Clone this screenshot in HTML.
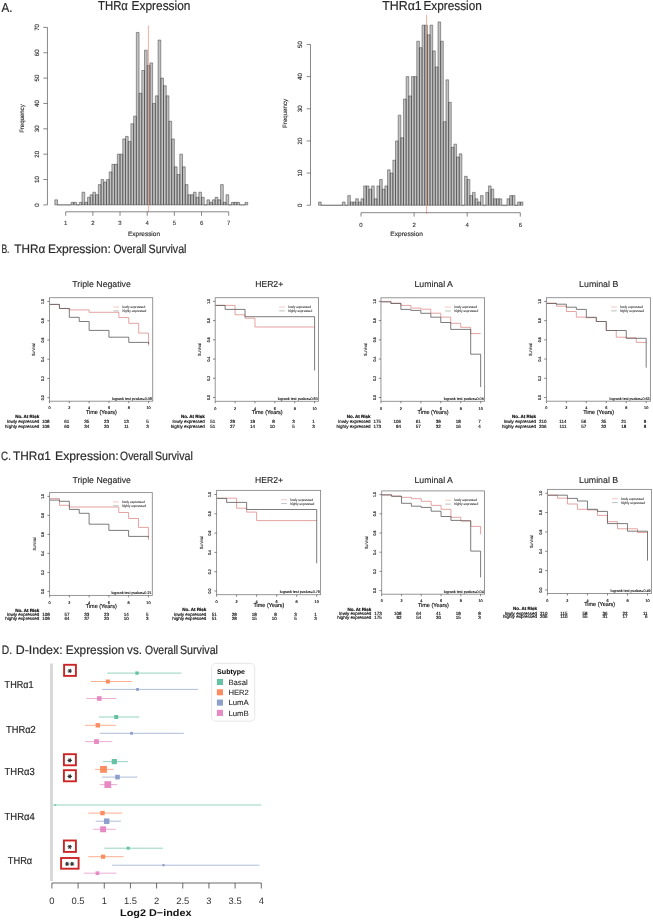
<!DOCTYPE html>
<html><head><meta charset="utf-8"><title>THRa figure</title>
<style>
html,body{margin:0;padding:0;background:#fff;}
body{width:653px;height:920px;overflow:hidden;}
svg{display:block;font-family:"Liberation Sans",sans-serif;text-rendering:geometricPrecision;will-change:transform;}
</style></head>
<body>
<svg width="653" height="920" viewBox="0 0 653 920">
<rect width="653" height="920" fill="#fff"/>
<text x="1.5" y="12" font-size="13" stroke="#2a2a2a" stroke-width="0.2" fill="#2a2a2a" textLength="11" lengthAdjust="spacingAndGlyphs">A.</text>
<text x="98" y="10.4" font-size="13" stroke="#2a2a2a" stroke-width="0.2" fill="#2a2a2a" textLength="29.9" lengthAdjust="spacingAndGlyphs">THRα</text>
<text x="131.6" y="10.4" font-size="13" stroke="#2a2a2a" stroke-width="0.2" fill="#2a2a2a" textLength="58.8" lengthAdjust="spacingAndGlyphs">Expression</text>
<text x="382.2" y="10.3" font-size="13" stroke="#2a2a2a" stroke-width="0.2" fill="#2a2a2a" textLength="39.5" lengthAdjust="spacingAndGlyphs">THRα1</text>
<text x="423.4" y="10.3" font-size="13" stroke="#2a2a2a" stroke-width="0.2" fill="#2a2a2a" textLength="58.4" lengthAdjust="spacingAndGlyphs">Expression</text>
<path d="M54.83 204.9V199.83H57.55V204.9ZM71.13 204.9V202.36H73.85V204.9ZM73.85 204.9V202.36H76.57V204.9ZM79.28 204.9V202.36H82V204.9ZM82 204.9V192.22H84.72V204.9ZM84.72 204.9V202.36H87.44V204.9ZM87.44 204.9V197.29H90.15V204.9ZM90.15 204.9V194.76H92.87V204.9ZM92.87 204.9V192.22H95.59V204.9ZM95.59 204.9V194.76H98.3V204.9ZM98.3 204.9V184.61H101.02V204.9ZM101.02 204.9V179.54H103.74V204.9ZM103.74 204.9V182.08H106.46V204.9ZM106.46 204.9V179.54H109.17V204.9ZM109.17 204.9V171.93H111.89V204.9ZM111.89 204.9V164.32H114.61V204.9ZM114.61 204.9V164.32H117.32V204.9ZM117.32 204.9V154.18H120.04V204.9ZM120.04 204.9V154.18H122.76V204.9ZM122.76 204.9V138.96H125.47V204.9ZM125.47 204.9V136.43H128.19V204.9ZM128.19 204.9V141.5H130.91V204.9ZM130.91 204.9V123.75H133.62V204.9ZM133.62 204.9V116.14H136.34V204.9ZM136.34 204.9V32.45H139.06V204.9ZM139.06 204.9V93.32H141.78V204.9ZM141.78 204.9V70.49H144.49V204.9ZM144.49 204.9V50.2H147.21V204.9ZM147.21 204.9V65.42H149.93V204.9ZM149.93 204.9V62.88H152.64V204.9ZM152.64 204.9V103.46H155.36V204.9ZM155.36 204.9V95.85H158.08V204.9ZM158.08 204.9V40.06H160.8V204.9ZM160.8 204.9V78.1H163.51V204.9ZM163.51 204.9V85.71H166.23V204.9ZM166.23 204.9V95.85H168.95V204.9ZM168.95 204.9V121.21H171.66V204.9ZM171.66 204.9V138.96H174.38V204.9ZM174.38 204.9V166.86H177.1V204.9ZM177.1 204.9V174.47H179.81V204.9ZM179.81 204.9V154.18H182.53V204.9ZM182.53 204.9V166.86H185.25V204.9ZM185.25 204.9V184.61H187.97V204.9ZM187.97 204.9V194.76H190.68V204.9ZM190.68 204.9V194.76H193.4V204.9ZM193.4 204.9V192.22H196.12V204.9ZM196.12 204.9V197.29H198.83V204.9ZM198.83 204.9V192.22H201.55V204.9ZM201.55 204.9V197.29H204.27V204.9ZM206.98 204.9V199.83H209.7V204.9ZM209.7 204.9V202.36H212.42V204.9ZM212.42 204.9V199.83H215.14V204.9ZM215.14 204.9V197.29H217.85V204.9ZM217.85 204.9V199.83H220.57V204.9ZM220.57 204.9V184.61H223.29V204.9ZM223.29 204.9V202.36H226V204.9ZM226 204.9V194.76H228.72V204.9ZM231.44 204.9V202.36H234.15V204.9ZM234.15 204.9V202.36H236.87V204.9ZM236.87 204.9V202.36H239.59V204.9ZM245.02 204.9V202.36H247.74V204.9Z" stroke="none" stroke-width="0" fill="#c2c2c2"/>
<path d="M54.83 204.9V199.83H57.55V204.9M57.55 204.9V204.9H60.27V204.9M60.27 204.9V204.9H62.98V204.9M62.98 204.9V204.9H65.7V204.9M65.7 204.9V204.9H68.42V204.9M68.42 204.9V204.9H71.13V204.9M71.13 204.9V202.36H73.85V204.9M73.85 204.9V202.36H76.57V204.9M76.57 204.9V204.9H79.28V204.9M79.28 204.9V202.36H82V204.9M82 204.9V192.22H84.72V204.9M84.72 204.9V202.36H87.44V204.9M87.44 204.9V197.29H90.15V204.9M90.15 204.9V194.76H92.87V204.9M92.87 204.9V192.22H95.59V204.9M95.59 204.9V194.76H98.3V204.9M98.3 204.9V184.61H101.02V204.9M101.02 204.9V179.54H103.74V204.9M103.74 204.9V182.08H106.46V204.9M106.46 204.9V179.54H109.17V204.9M109.17 204.9V171.93H111.89V204.9M111.89 204.9V164.32H114.61V204.9M114.61 204.9V164.32H117.32V204.9M117.32 204.9V154.18H120.04V204.9M120.04 204.9V154.18H122.76V204.9M122.76 204.9V138.96H125.47V204.9M125.47 204.9V136.43H128.19V204.9M128.19 204.9V141.5H130.91V204.9M130.91 204.9V123.75H133.62V204.9M133.62 204.9V116.14H136.34V204.9M136.34 204.9V32.45H139.06V204.9M139.06 204.9V93.32H141.78V204.9M141.78 204.9V70.49H144.49V204.9M144.49 204.9V50.2H147.21V204.9M147.21 204.9V65.42H149.93V204.9M149.93 204.9V62.88H152.64V204.9M152.64 204.9V103.46H155.36V204.9M155.36 204.9V95.85H158.08V204.9M158.08 204.9V40.06H160.8V204.9M160.8 204.9V78.1H163.51V204.9M163.51 204.9V85.71H166.23V204.9M166.23 204.9V95.85H168.95V204.9M168.95 204.9V121.21H171.66V204.9M171.66 204.9V138.96H174.38V204.9M174.38 204.9V166.86H177.1V204.9M177.1 204.9V174.47H179.81V204.9M179.81 204.9V154.18H182.53V204.9M182.53 204.9V166.86H185.25V204.9M185.25 204.9V184.61H187.97V204.9M187.97 204.9V194.76H190.68V204.9M190.68 204.9V194.76H193.4V204.9M193.4 204.9V192.22H196.12V204.9M196.12 204.9V197.29H198.83V204.9M198.83 204.9V192.22H201.55V204.9M201.55 204.9V197.29H204.27V204.9M204.27 204.9V204.9H206.98V204.9M206.98 204.9V199.83H209.7V204.9M209.7 204.9V202.36H212.42V204.9M212.42 204.9V199.83H215.14V204.9M215.14 204.9V197.29H217.85V204.9M217.85 204.9V199.83H220.57V204.9M220.57 204.9V184.61H223.29V204.9M223.29 204.9V202.36H226V204.9M226 204.9V194.76H228.72V204.9M228.72 204.9V204.9H231.44V204.9M231.44 204.9V202.36H234.15V204.9M234.15 204.9V202.36H236.87V204.9M236.87 204.9V202.36H239.59V204.9M239.59 204.9V204.9H242.31V204.9M242.31 204.9V204.9H245.02V204.9M245.02 204.9V202.36H247.74V204.9M54.83 204.9H247.74" stroke="#2e2e2e" stroke-width="0.45" fill="none"/>
<line x1="148.4" y1="25.5" x2="148.4" y2="212" stroke="#e9826f" stroke-width="0.65"/>
<line x1="47.45" y1="27.38" x2="47.45" y2="204.9" stroke="#555" stroke-width="0.7"/>
<line x1="43.3" y1="204.9" x2="47.45" y2="204.9" stroke="#555" stroke-width="0.7"/>
<text x="38.9" y="204.9" font-size="6.2" stroke="#2a2a2a" stroke-width="0.12" text-anchor="middle" fill="#2a2a2a" transform="rotate(-90 38.9 204.9)">0</text>
<line x1="43.3" y1="179.54" x2="47.45" y2="179.54" stroke="#555" stroke-width="0.7"/>
<text x="38.9" y="179.54" font-size="6.2" stroke="#2a2a2a" stroke-width="0.12" text-anchor="middle" fill="#2a2a2a" transform="rotate(-90 38.9 179.54)">10</text>
<line x1="43.3" y1="154.18" x2="47.45" y2="154.18" stroke="#555" stroke-width="0.7"/>
<text x="38.9" y="154.18" font-size="6.2" stroke="#2a2a2a" stroke-width="0.12" text-anchor="middle" fill="#2a2a2a" transform="rotate(-90 38.9 154.18)">20</text>
<line x1="43.3" y1="128.82" x2="47.45" y2="128.82" stroke="#555" stroke-width="0.7"/>
<text x="38.9" y="128.82" font-size="6.2" stroke="#2a2a2a" stroke-width="0.12" text-anchor="middle" fill="#2a2a2a" transform="rotate(-90 38.9 128.82)">30</text>
<line x1="43.3" y1="103.46" x2="47.45" y2="103.46" stroke="#555" stroke-width="0.7"/>
<text x="38.9" y="103.46" font-size="6.2" stroke="#2a2a2a" stroke-width="0.12" text-anchor="middle" fill="#2a2a2a" transform="rotate(-90 38.9 103.46)">40</text>
<line x1="43.3" y1="78.1" x2="47.45" y2="78.1" stroke="#555" stroke-width="0.7"/>
<text x="38.9" y="78.1" font-size="6.2" stroke="#2a2a2a" stroke-width="0.12" text-anchor="middle" fill="#2a2a2a" transform="rotate(-90 38.9 78.1)">50</text>
<line x1="43.3" y1="52.74" x2="47.45" y2="52.74" stroke="#555" stroke-width="0.7"/>
<text x="38.9" y="52.74" font-size="6.2" stroke="#2a2a2a" stroke-width="0.12" text-anchor="middle" fill="#2a2a2a" transform="rotate(-90 38.9 52.74)">60</text>
<line x1="43.3" y1="27.38" x2="47.45" y2="27.38" stroke="#555" stroke-width="0.7"/>
<text x="38.9" y="27.38" font-size="6.2" stroke="#2a2a2a" stroke-width="0.12" text-anchor="middle" fill="#2a2a2a" transform="rotate(-90 38.9 27.38)">70</text>
<text x="24.3" y="118.6" font-size="6.2" stroke="#2a2a2a" stroke-width="0.14" text-anchor="middle" fill="#2a2a2a" textLength="28.5" lengthAdjust="spacingAndGlyphs" transform="rotate(-90 24.3 118.6)">Frequency</text>
<line x1="65.7" y1="211.8" x2="228.72" y2="211.8" stroke="#555" stroke-width="0.7"/>
<line x1="65.7" y1="211.8" x2="65.7" y2="215.8" stroke="#555" stroke-width="0.7"/>
<text x="65.7" y="225.1" font-size="6" stroke="#333" stroke-width="0.1" text-anchor="middle" fill="#333">1</text>
<line x1="92.87" y1="211.8" x2="92.87" y2="215.8" stroke="#555" stroke-width="0.7"/>
<text x="92.87" y="225.1" font-size="6" stroke="#333" stroke-width="0.1" text-anchor="middle" fill="#333">2</text>
<line x1="120.04" y1="211.8" x2="120.04" y2="215.8" stroke="#555" stroke-width="0.7"/>
<text x="120.04" y="225.1" font-size="6" stroke="#333" stroke-width="0.1" text-anchor="middle" fill="#333">3</text>
<line x1="147.21" y1="211.8" x2="147.21" y2="215.8" stroke="#555" stroke-width="0.7"/>
<text x="147.21" y="225.1" font-size="6" stroke="#333" stroke-width="0.1" text-anchor="middle" fill="#333">4</text>
<line x1="174.38" y1="211.8" x2="174.38" y2="215.8" stroke="#555" stroke-width="0.7"/>
<text x="174.38" y="225.1" font-size="6" stroke="#333" stroke-width="0.1" text-anchor="middle" fill="#333">5</text>
<line x1="201.55" y1="211.8" x2="201.55" y2="215.8" stroke="#555" stroke-width="0.7"/>
<text x="201.55" y="225.1" font-size="6" stroke="#333" stroke-width="0.1" text-anchor="middle" fill="#333">6</text>
<line x1="228.72" y1="211.8" x2="228.72" y2="215.8" stroke="#555" stroke-width="0.7"/>
<text x="228.72" y="225.1" font-size="6" stroke="#333" stroke-width="0.1" text-anchor="middle" fill="#333">7</text>
<text x="144" y="236" font-size="6.3" stroke="#2a2a2a" stroke-width="0.14" text-anchor="middle" fill="#2a2a2a" textLength="32" lengthAdjust="spacingAndGlyphs">Expression</text>
<path d="M318.52 205.25V202.03H321.18V205.25ZM342.42 205.25V202.03H345.07V205.25ZM347.73 205.25V195.6H350.38V205.25ZM350.38 205.25V202.03H353.04V205.25ZM353.04 205.25V202.03H355.69V205.25ZM355.69 205.25V198.82H358.34V205.25ZM358.34 205.25V202.03H361V205.25ZM361 205.25V198.82H363.66V205.25ZM363.66 205.25V185.95H366.31V205.25ZM366.31 205.25V185.95H368.96V205.25ZM368.96 205.25V189.17H371.62V205.25ZM371.62 205.25V185.95H374.27V205.25ZM374.27 205.25V198.82H376.93V205.25ZM376.93 205.25V185.95H379.58V205.25ZM379.58 205.25V179.52H382.24V205.25ZM382.24 205.25V189.17H384.89V205.25ZM384.89 205.25V185.95H387.55V205.25ZM387.55 205.25V169.87H390.2V205.25ZM390.2 205.25V173.09H392.86V205.25ZM392.86 205.25V160.23H395.51V205.25ZM395.51 205.25V140.93H398.17V205.25ZM398.17 205.25V115.2H400.82V205.25ZM400.82 205.25V137.71H403.48V205.25ZM403.48 205.25V99.12H406.13V205.25ZM406.13 205.25V76.61H408.79V205.25ZM408.79 205.25V95.91H411.44V205.25ZM411.44 205.25V76.61H414.1V205.25ZM414.1 205.25V76.61H416.75V205.25ZM416.75 205.25V41.23H419.41V205.25ZM419.41 205.25V47.67H422.06V205.25ZM422.06 205.25V25.15H424.72V205.25ZM424.72 205.25V25.15H427.38V205.25ZM427.38 205.25V34.8H430.03V205.25ZM430.03 205.25V25.15H432.69V205.25ZM432.69 205.25V50.88H435.34V205.25ZM435.34 205.25V66.96H438V205.25ZM438 205.25V21.94H440.65V205.25ZM440.65 205.25V41.23H443.31V205.25ZM443.31 205.25V121.63H445.96V205.25ZM445.96 205.25V79.83H448.62V205.25ZM448.62 205.25V102.34H451.27V205.25ZM451.27 205.25V147.36H453.93V205.25ZM453.93 205.25V144.15H456.58V205.25ZM456.58 205.25V157.01H459.24V205.25ZM459.24 205.25V153.79H461.89V205.25ZM464.55 205.25V176.31H467.2V205.25ZM467.2 205.25V179.52H469.86V205.25ZM469.86 205.25V195.6H472.51V205.25ZM472.51 205.25V192.39H475.17V205.25ZM475.17 205.25V198.82H477.82V205.25ZM477.82 205.25V202.03H480.48V205.25ZM480.48 205.25V195.6H483.13V205.25ZM485.79 205.25V192.39H488.44V205.25ZM488.44 205.25V185.95H491.1V205.25ZM491.1 205.25V189.17H493.75V205.25ZM493.75 205.25V198.82H496.4V205.25ZM496.4 205.25V198.82H499.06V205.25ZM499.06 205.25V198.82H501.72V205.25ZM507.02 205.25V198.82H509.68V205.25ZM509.68 205.25V195.6H512.34V205.25ZM512.34 205.25V195.6H514.99V205.25ZM517.64 205.25V202.03H520.3V205.25ZM520.3 205.25V202.03H522.95V205.25Z" stroke="none" stroke-width="0" fill="#c2c2c2"/>
<path d="M318.52 205.25V202.03H321.18V205.25M321.18 205.25V205.25H323.83V205.25M323.83 205.25V205.25H326.49V205.25M326.49 205.25V205.25H329.14V205.25M329.14 205.25V205.25H331.8V205.25M331.8 205.25V205.25H334.45V205.25M334.45 205.25V205.25H337.11V205.25M337.11 205.25V205.25H339.76V205.25M339.76 205.25V205.25H342.42V205.25M342.42 205.25V202.03H345.07V205.25M345.07 205.25V205.25H347.73V205.25M347.73 205.25V195.6H350.38V205.25M350.38 205.25V202.03H353.04V205.25M353.04 205.25V202.03H355.69V205.25M355.69 205.25V198.82H358.34V205.25M358.34 205.25V202.03H361V205.25M361 205.25V198.82H363.66V205.25M363.66 205.25V185.95H366.31V205.25M366.31 205.25V185.95H368.96V205.25M368.96 205.25V189.17H371.62V205.25M371.62 205.25V185.95H374.27V205.25M374.27 205.25V198.82H376.93V205.25M376.93 205.25V185.95H379.58V205.25M379.58 205.25V179.52H382.24V205.25M382.24 205.25V189.17H384.89V205.25M384.89 205.25V185.95H387.55V205.25M387.55 205.25V169.87H390.2V205.25M390.2 205.25V173.09H392.86V205.25M392.86 205.25V160.23H395.51V205.25M395.51 205.25V140.93H398.17V205.25M398.17 205.25V115.2H400.82V205.25M400.82 205.25V137.71H403.48V205.25M403.48 205.25V99.12H406.13V205.25M406.13 205.25V76.61H408.79V205.25M408.79 205.25V95.91H411.44V205.25M411.44 205.25V76.61H414.1V205.25M414.1 205.25V76.61H416.75V205.25M416.75 205.25V41.23H419.41V205.25M419.41 205.25V47.67H422.06V205.25M422.06 205.25V25.15H424.72V205.25M424.72 205.25V25.15H427.38V205.25M427.38 205.25V34.8H430.03V205.25M430.03 205.25V25.15H432.69V205.25M432.69 205.25V50.88H435.34V205.25M435.34 205.25V66.96H438V205.25M438 205.25V21.94H440.65V205.25M440.65 205.25V41.23H443.31V205.25M443.31 205.25V121.63H445.96V205.25M445.96 205.25V79.83H448.62V205.25M448.62 205.25V102.34H451.27V205.25M451.27 205.25V147.36H453.93V205.25M453.93 205.25V144.15H456.58V205.25M456.58 205.25V157.01H459.24V205.25M459.24 205.25V153.79H461.89V205.25M461.89 205.25V205.25H464.55V205.25M464.55 205.25V176.31H467.2V205.25M467.2 205.25V179.52H469.86V205.25M469.86 205.25V195.6H472.51V205.25M472.51 205.25V192.39H475.17V205.25M475.17 205.25V198.82H477.82V205.25M477.82 205.25V202.03H480.48V205.25M480.48 205.25V195.6H483.13V205.25M483.13 205.25V205.25H485.79V205.25M485.79 205.25V192.39H488.44V205.25M488.44 205.25V185.95H491.1V205.25M491.1 205.25V189.17H493.75V205.25M493.75 205.25V198.82H496.4V205.25M496.4 205.25V198.82H499.06V205.25M499.06 205.25V198.82H501.72V205.25M501.72 205.25V205.25H504.37V205.25M504.37 205.25V205.25H507.02V205.25M507.02 205.25V198.82H509.68V205.25M509.68 205.25V195.6H512.34V205.25M512.34 205.25V195.6H514.99V205.25M514.99 205.25V205.25H517.64V205.25M517.64 205.25V202.03H520.3V205.25M520.3 205.25V202.03H522.95V205.25M318.52 205.25H522.95" stroke="#2e2e2e" stroke-width="0.45" fill="none"/>
<line x1="426.6" y1="14.7" x2="426.6" y2="213.8" stroke="#e9826f" stroke-width="0.65"/>
<line x1="310.5" y1="44.45" x2="310.5" y2="205.25" stroke="#555" stroke-width="0.7"/>
<line x1="306.7" y1="205.25" x2="310.5" y2="205.25" stroke="#555" stroke-width="0.7"/>
<text x="301.7" y="205.25" font-size="6.2" stroke="#2a2a2a" stroke-width="0.12" text-anchor="middle" fill="#2a2a2a" transform="rotate(-90 301.7 205.25)">0</text>
<line x1="306.7" y1="173.09" x2="310.5" y2="173.09" stroke="#555" stroke-width="0.7"/>
<text x="301.7" y="173.09" font-size="6.2" stroke="#2a2a2a" stroke-width="0.12" text-anchor="middle" fill="#2a2a2a" transform="rotate(-90 301.7 173.09)">10</text>
<line x1="306.7" y1="140.93" x2="310.5" y2="140.93" stroke="#555" stroke-width="0.7"/>
<text x="301.7" y="140.93" font-size="6.2" stroke="#2a2a2a" stroke-width="0.12" text-anchor="middle" fill="#2a2a2a" transform="rotate(-90 301.7 140.93)">20</text>
<line x1="306.7" y1="108.77" x2="310.5" y2="108.77" stroke="#555" stroke-width="0.7"/>
<text x="301.7" y="108.77" font-size="6.2" stroke="#2a2a2a" stroke-width="0.12" text-anchor="middle" fill="#2a2a2a" transform="rotate(-90 301.7 108.77)">30</text>
<line x1="306.7" y1="76.61" x2="310.5" y2="76.61" stroke="#555" stroke-width="0.7"/>
<text x="301.7" y="76.61" font-size="6.2" stroke="#2a2a2a" stroke-width="0.12" text-anchor="middle" fill="#2a2a2a" transform="rotate(-90 301.7 76.61)">40</text>
<line x1="306.7" y1="44.45" x2="310.5" y2="44.45" stroke="#555" stroke-width="0.7"/>
<text x="301.7" y="44.45" font-size="6.2" stroke="#2a2a2a" stroke-width="0.12" text-anchor="middle" fill="#2a2a2a" transform="rotate(-90 301.7 44.45)">50</text>
<text x="287.4" y="113.4" font-size="6.2" stroke="#2a2a2a" stroke-width="0.14" text-anchor="middle" fill="#2a2a2a" textLength="29" lengthAdjust="spacingAndGlyphs" transform="rotate(-90 287.4 113.4)">Frequency</text>
<line x1="361" y1="212.7" x2="520.3" y2="212.7" stroke="#555" stroke-width="0.7"/>
<line x1="361" y1="212.7" x2="361" y2="216.6" stroke="#555" stroke-width="0.7"/>
<text x="361" y="226.6" font-size="6" stroke="#333" stroke-width="0.1" text-anchor="middle" fill="#333">0</text>
<line x1="414.1" y1="212.7" x2="414.1" y2="216.6" stroke="#555" stroke-width="0.7"/>
<text x="414.1" y="226.6" font-size="6" stroke="#333" stroke-width="0.1" text-anchor="middle" fill="#333">2</text>
<line x1="467.2" y1="212.7" x2="467.2" y2="216.6" stroke="#555" stroke-width="0.7"/>
<text x="467.2" y="226.6" font-size="6" stroke="#333" stroke-width="0.1" text-anchor="middle" fill="#333">4</text>
<line x1="520.3" y1="212.7" x2="520.3" y2="216.6" stroke="#555" stroke-width="0.7"/>
<text x="520.3" y="226.6" font-size="6" stroke="#333" stroke-width="0.1" text-anchor="middle" fill="#333">6</text>
<text x="406.6" y="236.1" font-size="6.3" stroke="#2a2a2a" stroke-width="0.14" text-anchor="middle" fill="#2a2a2a" textLength="32.6" lengthAdjust="spacingAndGlyphs">Expression</text>
<text x="1.4" y="252.7" font-size="12.2" stroke="#2a2a2a" stroke-width="0.2" fill="#2a2a2a" textLength="8.1" lengthAdjust="spacingAndGlyphs">B.</text>
<text x="14.3" y="252.7" font-size="12.2" stroke="#2a2a2a" stroke-width="0.2" fill="#2a2a2a" textLength="30.9" lengthAdjust="spacingAndGlyphs">THRα</text>
<text x="47.9" y="252.7" font-size="12.2" stroke="#2a2a2a" stroke-width="0.2" fill="#2a2a2a" textLength="62.9" lengthAdjust="spacingAndGlyphs">Expression:</text>
<text x="113.4" y="252.7" font-size="12.2" stroke="#2a2a2a" stroke-width="0.2" fill="#2a2a2a" textLength="33" lengthAdjust="spacingAndGlyphs">Overall</text>
<text x="148.6" y="252.7" font-size="12.2" stroke="#2a2a2a" stroke-width="0.2" fill="#2a2a2a" textLength="37.9" lengthAdjust="spacingAndGlyphs">Survival</text>
<text x="1.1" y="459.9" font-size="12.2" stroke="#2a2a2a" stroke-width="0.2" fill="#2a2a2a" textLength="9.8" lengthAdjust="spacingAndGlyphs">C.</text>
<text x="13.1" y="459.9" font-size="12.2" stroke="#2a2a2a" stroke-width="0.2" fill="#2a2a2a" textLength="37.7" lengthAdjust="spacingAndGlyphs">THRα1</text>
<text x="55.1" y="459.9" font-size="12.2" stroke="#2a2a2a" stroke-width="0.2" fill="#2a2a2a" textLength="63.6" lengthAdjust="spacingAndGlyphs">Expression:</text>
<text x="120.1" y="459.9" font-size="12.2" stroke="#2a2a2a" stroke-width="0.2" fill="#2a2a2a" textLength="32.9" lengthAdjust="spacingAndGlyphs">Overall</text>
<text x="155" y="459.9" font-size="12.2" stroke="#2a2a2a" stroke-width="0.2" fill="#2a2a2a" textLength="37.8" lengthAdjust="spacingAndGlyphs">Survival</text>
<text x="101.6" y="286.5" font-size="8.7" stroke="#262626" stroke-width="0.12" text-anchor="middle" fill="#262626" textLength="58.5" lengthAdjust="spacingAndGlyphs">Triple Negative</text>
<path d="M49.5 304.4H59.41V308.5H69.32V309.9H89.14V312.3H118.87V317.6H128.78V323.3H138.69V333.1H148.6V345.7" stroke="#dc8a86" stroke-width="0.78" fill="none"/>
<path d="M49.5 304.4H59.41V308.5H69.32V317.3H79.23V321.5H89.14V330.4H108.96V337.2H128.78V342.4H148.6V344" stroke="#565656" stroke-width="0.78" fill="none"/>
<rect x="49.5" y="297.7" width="103.2" height="103.5" fill="none" stroke="#8a8a8a" stroke-width="0.9"/>
<line x1="47.3" y1="397.7" x2="49.5" y2="397.7" stroke="#555" stroke-width="0.7"/>
<text x="44.2" y="397.7" font-size="4" stroke="#222" stroke-width="0.15" text-anchor="middle" textLength="4.9" lengthAdjust="spacingAndGlyphs" transform="rotate(-90 44.2 397.7)">0.0</text>
<line x1="47.3" y1="378.46" x2="49.5" y2="378.46" stroke="#555" stroke-width="0.7"/>
<text x="44.2" y="378.46" font-size="4" stroke="#222" stroke-width="0.15" text-anchor="middle" textLength="4.9" lengthAdjust="spacingAndGlyphs" transform="rotate(-90 44.2 378.46)">0.2</text>
<line x1="47.3" y1="359.22" x2="49.5" y2="359.22" stroke="#555" stroke-width="0.7"/>
<text x="44.2" y="359.22" font-size="4" stroke="#222" stroke-width="0.15" text-anchor="middle" textLength="4.9" lengthAdjust="spacingAndGlyphs" transform="rotate(-90 44.2 359.22)">0.4</text>
<line x1="47.3" y1="339.98" x2="49.5" y2="339.98" stroke="#555" stroke-width="0.7"/>
<text x="44.2" y="339.98" font-size="4" stroke="#222" stroke-width="0.15" text-anchor="middle" textLength="4.9" lengthAdjust="spacingAndGlyphs" transform="rotate(-90 44.2 339.98)">0.6</text>
<line x1="47.3" y1="320.74" x2="49.5" y2="320.74" stroke="#555" stroke-width="0.7"/>
<text x="44.2" y="320.74" font-size="4" stroke="#222" stroke-width="0.15" text-anchor="middle" textLength="4.9" lengthAdjust="spacingAndGlyphs" transform="rotate(-90 44.2 320.74)">0.8</text>
<line x1="47.3" y1="301.5" x2="49.5" y2="301.5" stroke="#555" stroke-width="0.7"/>
<text x="44.2" y="301.5" font-size="4" stroke="#222" stroke-width="0.15" text-anchor="middle" textLength="4.9" lengthAdjust="spacingAndGlyphs" transform="rotate(-90 44.2 301.5)">1.0</text>
<text x="35.5" y="349.6" font-size="4.4" stroke="#222" stroke-width="0.12" text-anchor="middle" textLength="13" lengthAdjust="spacingAndGlyphs" transform="rotate(-90 35.5 349.6)">Survival</text>
<line x1="49.5" y1="401.2" x2="49.5" y2="403.2" stroke="#555" stroke-width="0.7"/>
<text x="49.5" y="409.4" font-size="3.8" stroke="#222" stroke-width="0.15" text-anchor="middle">0</text>
<line x1="69.32" y1="401.2" x2="69.32" y2="403.2" stroke="#555" stroke-width="0.7"/>
<text x="69.32" y="409.4" font-size="3.8" stroke="#222" stroke-width="0.15" text-anchor="middle">2</text>
<line x1="89.14" y1="401.2" x2="89.14" y2="403.2" stroke="#555" stroke-width="0.7"/>
<text x="89.14" y="409.4" font-size="3.8" stroke="#222" stroke-width="0.15" text-anchor="middle">4</text>
<line x1="108.96" y1="401.2" x2="108.96" y2="403.2" stroke="#555" stroke-width="0.7"/>
<text x="108.96" y="409.4" font-size="3.8" stroke="#222" stroke-width="0.15" text-anchor="middle">6</text>
<line x1="128.78" y1="401.2" x2="128.78" y2="403.2" stroke="#555" stroke-width="0.7"/>
<text x="128.78" y="409.4" font-size="3.8" stroke="#222" stroke-width="0.15" text-anchor="middle">8</text>
<line x1="148.6" y1="401.2" x2="148.6" y2="403.2" stroke="#555" stroke-width="0.7"/>
<text x="148.6" y="409.4" font-size="3.8" stroke="#222" stroke-width="0.15" text-anchor="middle">10</text>
<text x="101.4" y="413.8" font-size="5.7" stroke="#222" stroke-width="0.14" text-anchor="middle" textLength="31" lengthAdjust="spacingAndGlyphs">Time (Years)</text>
<line x1="113.4" y1="307" x2="119" y2="307" stroke="#f6c4be" stroke-width="0.95"/>
<line x1="113.4" y1="310.9" x2="119" y2="310.9" stroke="#b8bcb8" stroke-width="0.95"/>
<text x="122.4" y="308.1" font-size="3.3" stroke="#2a2a2a" stroke-width="0.06" fill="#2a2a2a" textLength="22.8" lengthAdjust="spacingAndGlyphs">lowly expressed</text>
<text x="122.4" y="312" font-size="3.3" stroke="#2a2a2a" stroke-width="0.06" fill="#2a2a2a" textLength="24" lengthAdjust="spacingAndGlyphs">highly expressed</text>
<text x="151.9" y="399.6" font-size="3.7" stroke="#111" stroke-width="0.12" text-anchor="end" fill="#111" textLength="40" lengthAdjust="spacingAndGlyphs">logrank test pvalue=0.08</text>
<text x="39.2" y="417.7" font-size="4.5" stroke="#111" stroke-width="0.2" text-anchor="end" font-weight="bold" fill="#111" textLength="24" lengthAdjust="spacingAndGlyphs">No. At Risk</text>
<text x="39.2" y="423.3" font-size="4.5" stroke="#111" stroke-width="0.15" text-anchor="end" fill="#111" textLength="32.3" lengthAdjust="spacingAndGlyphs">lowly expressed</text>
<text x="39.2" y="427.5" font-size="4.5" stroke="#111" stroke-width="0.15" text-anchor="end" fill="#111" textLength="34.1" lengthAdjust="spacingAndGlyphs">highly expressed</text>
<text x="49.55" y="423.3" font-size="4.5" stroke="#111" stroke-width="0.15" text-anchor="end" fill="#111">108</text>
<text x="49.55" y="427.5" font-size="4.5" stroke="#111" stroke-width="0.15" text-anchor="end" fill="#111">109</text>
<text x="69.37" y="423.3" font-size="4.5" stroke="#111" stroke-width="0.15" text-anchor="end" fill="#111">61</text>
<text x="69.37" y="427.5" font-size="4.5" stroke="#111" stroke-width="0.15" text-anchor="end" fill="#111">60</text>
<text x="89.19" y="423.3" font-size="4.5" stroke="#111" stroke-width="0.15" text-anchor="end" fill="#111">35</text>
<text x="89.19" y="427.5" font-size="4.5" stroke="#111" stroke-width="0.15" text-anchor="end" fill="#111">34</text>
<text x="109.01" y="423.3" font-size="4.5" stroke="#111" stroke-width="0.15" text-anchor="end" fill="#111">23</text>
<text x="109.01" y="427.5" font-size="4.5" stroke="#111" stroke-width="0.15" text-anchor="end" fill="#111">20</text>
<text x="128.83" y="423.3" font-size="4.5" stroke="#111" stroke-width="0.15" text-anchor="end" fill="#111">13</text>
<text x="128.83" y="427.5" font-size="4.5" stroke="#111" stroke-width="0.15" text-anchor="end" fill="#111">11</text>
<text x="148.65" y="423.3" font-size="4.5" stroke="#111" stroke-width="0.15" text-anchor="end" fill="#111">5</text>
<text x="148.65" y="427.5" font-size="4.5" stroke="#111" stroke-width="0.15" text-anchor="end" fill="#111">3</text>
<text x="269.2" y="286.8" font-size="8.7" stroke="#262626" stroke-width="0.12" text-anchor="middle" fill="#262626" textLength="28" lengthAdjust="spacingAndGlyphs">HER2+</text>
<path d="M215.2 305.4H235.08V314.8H245.02V318.2H254.96V327H314.6V327" stroke="#dc8a86" stroke-width="0.78" fill="none"/>
<path d="M215.2 305.4H225.14V309.4H245.02V316.7H314.6V370.5" stroke="#565656" stroke-width="0.78" fill="none"/>
<rect x="215.2" y="297.7" width="103.3" height="103.6" fill="none" stroke="#8a8a8a" stroke-width="0.9"/>
<line x1="213" y1="397.5" x2="215.2" y2="397.5" stroke="#555" stroke-width="0.7"/>
<text x="209.9" y="397.5" font-size="4" stroke="#222" stroke-width="0.15" text-anchor="middle" textLength="4.9" lengthAdjust="spacingAndGlyphs" transform="rotate(-90 209.9 397.5)">0.0</text>
<line x1="213" y1="378.28" x2="215.2" y2="378.28" stroke="#555" stroke-width="0.7"/>
<text x="209.9" y="378.28" font-size="4" stroke="#222" stroke-width="0.15" text-anchor="middle" textLength="4.9" lengthAdjust="spacingAndGlyphs" transform="rotate(-90 209.9 378.28)">0.2</text>
<line x1="213" y1="359.06" x2="215.2" y2="359.06" stroke="#555" stroke-width="0.7"/>
<text x="209.9" y="359.06" font-size="4" stroke="#222" stroke-width="0.15" text-anchor="middle" textLength="4.9" lengthAdjust="spacingAndGlyphs" transform="rotate(-90 209.9 359.06)">0.4</text>
<line x1="213" y1="339.84" x2="215.2" y2="339.84" stroke="#555" stroke-width="0.7"/>
<text x="209.9" y="339.84" font-size="4" stroke="#222" stroke-width="0.15" text-anchor="middle" textLength="4.9" lengthAdjust="spacingAndGlyphs" transform="rotate(-90 209.9 339.84)">0.6</text>
<line x1="213" y1="320.62" x2="215.2" y2="320.62" stroke="#555" stroke-width="0.7"/>
<text x="209.9" y="320.62" font-size="4" stroke="#222" stroke-width="0.15" text-anchor="middle" textLength="4.9" lengthAdjust="spacingAndGlyphs" transform="rotate(-90 209.9 320.62)">0.8</text>
<line x1="213" y1="301.4" x2="215.2" y2="301.4" stroke="#555" stroke-width="0.7"/>
<text x="209.9" y="301.4" font-size="4" stroke="#222" stroke-width="0.15" text-anchor="middle" textLength="4.9" lengthAdjust="spacingAndGlyphs" transform="rotate(-90 209.9 301.4)">1.0</text>
<text x="201.2" y="349.45" font-size="4.4" stroke="#222" stroke-width="0.12" text-anchor="middle" textLength="13" lengthAdjust="spacingAndGlyphs" transform="rotate(-90 201.2 349.45)">Survival</text>
<line x1="215.2" y1="401.3" x2="215.2" y2="403.3" stroke="#555" stroke-width="0.7"/>
<text x="215.2" y="409.5" font-size="3.8" stroke="#222" stroke-width="0.15" text-anchor="middle">0</text>
<line x1="235.08" y1="401.3" x2="235.08" y2="403.3" stroke="#555" stroke-width="0.7"/>
<text x="235.08" y="409.5" font-size="3.8" stroke="#222" stroke-width="0.15" text-anchor="middle">2</text>
<line x1="254.96" y1="401.3" x2="254.96" y2="403.3" stroke="#555" stroke-width="0.7"/>
<text x="254.96" y="409.5" font-size="3.8" stroke="#222" stroke-width="0.15" text-anchor="middle">4</text>
<line x1="274.84" y1="401.3" x2="274.84" y2="403.3" stroke="#555" stroke-width="0.7"/>
<text x="274.84" y="409.5" font-size="3.8" stroke="#222" stroke-width="0.15" text-anchor="middle">6</text>
<line x1="294.72" y1="401.3" x2="294.72" y2="403.3" stroke="#555" stroke-width="0.7"/>
<text x="294.72" y="409.5" font-size="3.8" stroke="#222" stroke-width="0.15" text-anchor="middle">8</text>
<line x1="314.6" y1="401.3" x2="314.6" y2="403.3" stroke="#555" stroke-width="0.7"/>
<text x="314.6" y="409.5" font-size="3.8" stroke="#222" stroke-width="0.15" text-anchor="middle">10</text>
<text x="267.15" y="413.9" font-size="5.7" stroke="#222" stroke-width="0.14" text-anchor="middle" textLength="31" lengthAdjust="spacingAndGlyphs">Time (Years)</text>
<line x1="279.2" y1="307" x2="284.8" y2="307" stroke="#f6c4be" stroke-width="0.95"/>
<line x1="279.2" y1="310.9" x2="284.8" y2="310.9" stroke="#b8bcb8" stroke-width="0.95"/>
<text x="288.2" y="308.1" font-size="3.3" stroke="#2a2a2a" stroke-width="0.06" fill="#2a2a2a" textLength="22.8" lengthAdjust="spacingAndGlyphs">lowly expressed</text>
<text x="288.2" y="312" font-size="3.3" stroke="#2a2a2a" stroke-width="0.06" fill="#2a2a2a" textLength="24" lengthAdjust="spacingAndGlyphs">highly expressed</text>
<text x="317.7" y="399.7" font-size="3.7" stroke="#111" stroke-width="0.12" text-anchor="end" fill="#111" textLength="40" lengthAdjust="spacingAndGlyphs">logrank test pvalue=0.80</text>
<text x="204.9" y="417.8" font-size="4.5" stroke="#111" stroke-width="0.2" text-anchor="end" font-weight="bold" fill="#111" textLength="24" lengthAdjust="spacingAndGlyphs">No. At Risk</text>
<text x="204.9" y="423.4" font-size="4.5" stroke="#111" stroke-width="0.15" text-anchor="end" fill="#111" textLength="32.3" lengthAdjust="spacingAndGlyphs">lowly expressed</text>
<text x="204.9" y="427.6" font-size="4.5" stroke="#111" stroke-width="0.15" text-anchor="end" fill="#111" textLength="34.1" lengthAdjust="spacingAndGlyphs">highly expressed</text>
<text x="215.25" y="423.4" font-size="4.5" stroke="#111" stroke-width="0.15" text-anchor="end" fill="#111">51</text>
<text x="215.25" y="427.6" font-size="4.5" stroke="#111" stroke-width="0.15" text-anchor="end" fill="#111">51</text>
<text x="235.13" y="423.4" font-size="4.5" stroke="#111" stroke-width="0.15" text-anchor="end" fill="#111">29</text>
<text x="235.13" y="427.6" font-size="4.5" stroke="#111" stroke-width="0.15" text-anchor="end" fill="#111">27</text>
<text x="255.01" y="423.4" font-size="4.5" stroke="#111" stroke-width="0.15" text-anchor="end" fill="#111">19</text>
<text x="255.01" y="427.6" font-size="4.5" stroke="#111" stroke-width="0.15" text-anchor="end" fill="#111">14</text>
<text x="274.89" y="423.4" font-size="4.5" stroke="#111" stroke-width="0.15" text-anchor="end" fill="#111">8</text>
<text x="274.89" y="427.6" font-size="4.5" stroke="#111" stroke-width="0.15" text-anchor="end" fill="#111">10</text>
<text x="294.77" y="423.4" font-size="4.5" stroke="#111" stroke-width="0.15" text-anchor="end" fill="#111">3</text>
<text x="294.77" y="427.6" font-size="4.5" stroke="#111" stroke-width="0.15" text-anchor="end" fill="#111">5</text>
<text x="314.65" y="423.4" font-size="4.5" stroke="#111" stroke-width="0.15" text-anchor="end" fill="#111">1</text>
<text x="314.65" y="427.6" font-size="4.5" stroke="#111" stroke-width="0.15" text-anchor="end" fill="#111">3</text>
<text x="433.7" y="286.6" font-size="8.7" stroke="#262626" stroke-width="0.12" text-anchor="middle" fill="#262626" textLength="38.4" lengthAdjust="spacingAndGlyphs">Luminal A</text>
<path d="M380.95 301.4H390.92V303.1H400.89V305.4H410.86V308.1H420.83V309.2H430.8V313.2H440.77V317.1H450.74V323.3H460.71V327.3H470.68V333.6H480.65V333.6" stroke="#dc8a86" stroke-width="0.78" fill="none"/>
<path d="M380.95 301.9H390.92V303.5H400.89V309.4H410.86V310.4H420.83V313.3H430.8V317.2H440.77V322.5H450.74V329.4H470.68V354.2H480.65V387" stroke="#565656" stroke-width="0.78" fill="none"/>
<rect x="380.95" y="297.8" width="103.55" height="103.5" fill="none" stroke="#8a8a8a" stroke-width="0.9"/>
<line x1="378.75" y1="397.5" x2="380.95" y2="397.5" stroke="#555" stroke-width="0.7"/>
<text x="375.65" y="397.5" font-size="4" stroke="#222" stroke-width="0.15" text-anchor="middle" textLength="4.9" lengthAdjust="spacingAndGlyphs" transform="rotate(-90 375.65 397.5)">0.0</text>
<line x1="378.75" y1="378.28" x2="380.95" y2="378.28" stroke="#555" stroke-width="0.7"/>
<text x="375.65" y="378.28" font-size="4" stroke="#222" stroke-width="0.15" text-anchor="middle" textLength="4.9" lengthAdjust="spacingAndGlyphs" transform="rotate(-90 375.65 378.28)">0.2</text>
<line x1="378.75" y1="359.06" x2="380.95" y2="359.06" stroke="#555" stroke-width="0.7"/>
<text x="375.65" y="359.06" font-size="4" stroke="#222" stroke-width="0.15" text-anchor="middle" textLength="4.9" lengthAdjust="spacingAndGlyphs" transform="rotate(-90 375.65 359.06)">0.4</text>
<line x1="378.75" y1="339.84" x2="380.95" y2="339.84" stroke="#555" stroke-width="0.7"/>
<text x="375.65" y="339.84" font-size="4" stroke="#222" stroke-width="0.15" text-anchor="middle" textLength="4.9" lengthAdjust="spacingAndGlyphs" transform="rotate(-90 375.65 339.84)">0.6</text>
<line x1="378.75" y1="320.62" x2="380.95" y2="320.62" stroke="#555" stroke-width="0.7"/>
<text x="375.65" y="320.62" font-size="4" stroke="#222" stroke-width="0.15" text-anchor="middle" textLength="4.9" lengthAdjust="spacingAndGlyphs" transform="rotate(-90 375.65 320.62)">0.8</text>
<line x1="378.75" y1="301.4" x2="380.95" y2="301.4" stroke="#555" stroke-width="0.7"/>
<text x="375.65" y="301.4" font-size="4" stroke="#222" stroke-width="0.15" text-anchor="middle" textLength="4.9" lengthAdjust="spacingAndGlyphs" transform="rotate(-90 375.65 301.4)">1.0</text>
<text x="366.95" y="349.45" font-size="4.4" stroke="#222" stroke-width="0.12" text-anchor="middle" textLength="13" lengthAdjust="spacingAndGlyphs" transform="rotate(-90 366.95 349.45)">Survival</text>
<line x1="380.95" y1="401.3" x2="380.95" y2="403.3" stroke="#555" stroke-width="0.7"/>
<text x="380.95" y="409.5" font-size="3.8" stroke="#222" stroke-width="0.15" text-anchor="middle">0</text>
<line x1="400.89" y1="401.3" x2="400.89" y2="403.3" stroke="#555" stroke-width="0.7"/>
<text x="400.89" y="409.5" font-size="3.8" stroke="#222" stroke-width="0.15" text-anchor="middle">2</text>
<line x1="420.83" y1="401.3" x2="420.83" y2="403.3" stroke="#555" stroke-width="0.7"/>
<text x="420.83" y="409.5" font-size="3.8" stroke="#222" stroke-width="0.15" text-anchor="middle">4</text>
<line x1="440.77" y1="401.3" x2="440.77" y2="403.3" stroke="#555" stroke-width="0.7"/>
<text x="440.77" y="409.5" font-size="3.8" stroke="#222" stroke-width="0.15" text-anchor="middle">6</text>
<line x1="460.71" y1="401.3" x2="460.71" y2="403.3" stroke="#555" stroke-width="0.7"/>
<text x="460.71" y="409.5" font-size="3.8" stroke="#222" stroke-width="0.15" text-anchor="middle">8</text>
<line x1="480.65" y1="401.3" x2="480.65" y2="403.3" stroke="#555" stroke-width="0.7"/>
<text x="480.65" y="409.5" font-size="3.8" stroke="#222" stroke-width="0.15" text-anchor="middle">10</text>
<text x="433.03" y="413.9" font-size="5.7" stroke="#222" stroke-width="0.14" text-anchor="middle" textLength="31" lengthAdjust="spacingAndGlyphs">Time (Years)</text>
<line x1="445.2" y1="307.1" x2="450.8" y2="307.1" stroke="#f6c4be" stroke-width="0.95"/>
<line x1="445.2" y1="311" x2="450.8" y2="311" stroke="#b8bcb8" stroke-width="0.95"/>
<text x="454.2" y="308.2" font-size="3.3" stroke="#2a2a2a" stroke-width="0.06" fill="#2a2a2a" textLength="22.8" lengthAdjust="spacingAndGlyphs">lowly expressed</text>
<text x="454.2" y="312.1" font-size="3.3" stroke="#2a2a2a" stroke-width="0.06" fill="#2a2a2a" textLength="24" lengthAdjust="spacingAndGlyphs">highly expressed</text>
<text x="483.7" y="399.7" font-size="3.7" stroke="#111" stroke-width="0.12" text-anchor="end" fill="#111" textLength="40" lengthAdjust="spacingAndGlyphs">logrank test pvalue=0.05</text>
<text x="370.65" y="417.8" font-size="4.5" stroke="#111" stroke-width="0.2" text-anchor="end" font-weight="bold" fill="#111" textLength="24" lengthAdjust="spacingAndGlyphs">No. At Risk</text>
<text x="370.65" y="423.4" font-size="4.5" stroke="#111" stroke-width="0.15" text-anchor="end" fill="#111" textLength="32.3" lengthAdjust="spacingAndGlyphs">lowly expressed</text>
<text x="370.65" y="427.6" font-size="4.5" stroke="#111" stroke-width="0.15" text-anchor="end" fill="#111" textLength="34.1" lengthAdjust="spacingAndGlyphs">highly expressed</text>
<text x="381" y="423.4" font-size="4.5" stroke="#111" stroke-width="0.15" text-anchor="end" fill="#111">175</text>
<text x="381" y="427.6" font-size="4.5" stroke="#111" stroke-width="0.15" text-anchor="end" fill="#111">173</text>
<text x="400.94" y="423.4" font-size="4.5" stroke="#111" stroke-width="0.15" text-anchor="end" fill="#111">106</text>
<text x="400.94" y="427.6" font-size="4.5" stroke="#111" stroke-width="0.15" text-anchor="end" fill="#111">94</text>
<text x="420.88" y="423.4" font-size="4.5" stroke="#111" stroke-width="0.15" text-anchor="end" fill="#111">61</text>
<text x="420.88" y="427.6" font-size="4.5" stroke="#111" stroke-width="0.15" text-anchor="end" fill="#111">57</text>
<text x="440.82" y="423.4" font-size="4.5" stroke="#111" stroke-width="0.15" text-anchor="end" fill="#111">39</text>
<text x="440.82" y="427.6" font-size="4.5" stroke="#111" stroke-width="0.15" text-anchor="end" fill="#111">32</text>
<text x="460.76" y="423.4" font-size="4.5" stroke="#111" stroke-width="0.15" text-anchor="end" fill="#111">18</text>
<text x="460.76" y="427.6" font-size="4.5" stroke="#111" stroke-width="0.15" text-anchor="end" fill="#111">16</text>
<text x="480.7" y="423.4" font-size="4.5" stroke="#111" stroke-width="0.15" text-anchor="end" fill="#111">7</text>
<text x="480.7" y="427.6" font-size="4.5" stroke="#111" stroke-width="0.15" text-anchor="end" fill="#111">4</text>
<text x="598.7" y="286.6" font-size="8.7" stroke="#262626" stroke-width="0.12" text-anchor="middle" fill="#262626" textLength="39.2" lengthAdjust="spacingAndGlyphs">Luminal B</text>
<path d="M546.4 303.1H556.38V306.2H566.36V311.5H576.34V317.1H586.32V317.7H596.3V321.5H606.28V330.5H616.26V337.2H626.24V337.8H636.22V342.4H646.2V342.4" stroke="#dc8a86" stroke-width="0.78" fill="none"/>
<path d="M546.4 303.5H556.38V304.2H566.36V307.2H576.34V309.4H586.32V317.3H596.3V321.5H606.28V330.5H626.24V338.3H646.2V367.7" stroke="#565656" stroke-width="0.78" fill="none"/>
<rect x="546.4" y="297.7" width="104" height="103.5" fill="none" stroke="#8a8a8a" stroke-width="0.9"/>
<line x1="544.2" y1="397.5" x2="546.4" y2="397.5" stroke="#555" stroke-width="0.7"/>
<text x="541.1" y="397.5" font-size="4" stroke="#222" stroke-width="0.15" text-anchor="middle" textLength="4.9" lengthAdjust="spacingAndGlyphs" transform="rotate(-90 541.1 397.5)">0.0</text>
<line x1="544.2" y1="378.28" x2="546.4" y2="378.28" stroke="#555" stroke-width="0.7"/>
<text x="541.1" y="378.28" font-size="4" stroke="#222" stroke-width="0.15" text-anchor="middle" textLength="4.9" lengthAdjust="spacingAndGlyphs" transform="rotate(-90 541.1 378.28)">0.2</text>
<line x1="544.2" y1="359.06" x2="546.4" y2="359.06" stroke="#555" stroke-width="0.7"/>
<text x="541.1" y="359.06" font-size="4" stroke="#222" stroke-width="0.15" text-anchor="middle" textLength="4.9" lengthAdjust="spacingAndGlyphs" transform="rotate(-90 541.1 359.06)">0.4</text>
<line x1="544.2" y1="339.84" x2="546.4" y2="339.84" stroke="#555" stroke-width="0.7"/>
<text x="541.1" y="339.84" font-size="4" stroke="#222" stroke-width="0.15" text-anchor="middle" textLength="4.9" lengthAdjust="spacingAndGlyphs" transform="rotate(-90 541.1 339.84)">0.6</text>
<line x1="544.2" y1="320.62" x2="546.4" y2="320.62" stroke="#555" stroke-width="0.7"/>
<text x="541.1" y="320.62" font-size="4" stroke="#222" stroke-width="0.15" text-anchor="middle" textLength="4.9" lengthAdjust="spacingAndGlyphs" transform="rotate(-90 541.1 320.62)">0.8</text>
<line x1="544.2" y1="301.4" x2="546.4" y2="301.4" stroke="#555" stroke-width="0.7"/>
<text x="541.1" y="301.4" font-size="4" stroke="#222" stroke-width="0.15" text-anchor="middle" textLength="4.9" lengthAdjust="spacingAndGlyphs" transform="rotate(-90 541.1 301.4)">1.0</text>
<text x="532.4" y="349.45" font-size="4.4" stroke="#222" stroke-width="0.12" text-anchor="middle" textLength="13" lengthAdjust="spacingAndGlyphs" transform="rotate(-90 532.4 349.45)">Survival</text>
<line x1="546.4" y1="401.2" x2="546.4" y2="403.2" stroke="#555" stroke-width="0.7"/>
<text x="546.4" y="409.4" font-size="3.8" stroke="#222" stroke-width="0.15" text-anchor="middle">0</text>
<line x1="566.36" y1="401.2" x2="566.36" y2="403.2" stroke="#555" stroke-width="0.7"/>
<text x="566.36" y="409.4" font-size="3.8" stroke="#222" stroke-width="0.15" text-anchor="middle">2</text>
<line x1="586.32" y1="401.2" x2="586.32" y2="403.2" stroke="#555" stroke-width="0.7"/>
<text x="586.32" y="409.4" font-size="3.8" stroke="#222" stroke-width="0.15" text-anchor="middle">4</text>
<line x1="606.28" y1="401.2" x2="606.28" y2="403.2" stroke="#555" stroke-width="0.7"/>
<text x="606.28" y="409.4" font-size="3.8" stroke="#222" stroke-width="0.15" text-anchor="middle">6</text>
<line x1="626.24" y1="401.2" x2="626.24" y2="403.2" stroke="#555" stroke-width="0.7"/>
<text x="626.24" y="409.4" font-size="3.8" stroke="#222" stroke-width="0.15" text-anchor="middle">8</text>
<line x1="646.2" y1="401.2" x2="646.2" y2="403.2" stroke="#555" stroke-width="0.7"/>
<text x="646.2" y="409.4" font-size="3.8" stroke="#222" stroke-width="0.15" text-anchor="middle">10</text>
<text x="598.7" y="413.8" font-size="5.7" stroke="#222" stroke-width="0.14" text-anchor="middle" textLength="31" lengthAdjust="spacingAndGlyphs">Time (Years)</text>
<line x1="611.1" y1="307" x2="616.7" y2="307" stroke="#f6c4be" stroke-width="0.95"/>
<line x1="611.1" y1="310.9" x2="616.7" y2="310.9" stroke="#b8bcb8" stroke-width="0.95"/>
<text x="620.1" y="308.1" font-size="3.3" stroke="#2a2a2a" stroke-width="0.06" fill="#2a2a2a" textLength="22.8" lengthAdjust="spacingAndGlyphs">lowly expressed</text>
<text x="620.1" y="312" font-size="3.3" stroke="#2a2a2a" stroke-width="0.06" fill="#2a2a2a" textLength="24" lengthAdjust="spacingAndGlyphs">highly expressed</text>
<text x="649.6" y="399.6" font-size="3.7" stroke="#111" stroke-width="0.12" text-anchor="end" fill="#111" textLength="40" lengthAdjust="spacingAndGlyphs">logrank test pvalue=0.63</text>
<text x="536.1" y="417.7" font-size="4.5" stroke="#111" stroke-width="0.2" text-anchor="end" font-weight="bold" fill="#111" textLength="24" lengthAdjust="spacingAndGlyphs">No. At Risk</text>
<text x="536.1" y="423.3" font-size="4.5" stroke="#111" stroke-width="0.15" text-anchor="end" fill="#111" textLength="32.3" lengthAdjust="spacingAndGlyphs">lowly expressed</text>
<text x="536.1" y="427.5" font-size="4.5" stroke="#111" stroke-width="0.15" text-anchor="end" fill="#111" textLength="34.1" lengthAdjust="spacingAndGlyphs">highly expressed</text>
<text x="546.45" y="423.3" font-size="4.5" stroke="#111" stroke-width="0.15" text-anchor="end" fill="#111">210</text>
<text x="546.45" y="427.5" font-size="4.5" stroke="#111" stroke-width="0.15" text-anchor="end" fill="#111">206</text>
<text x="566.41" y="423.3" font-size="4.5" stroke="#111" stroke-width="0.15" text-anchor="end" fill="#111">114</text>
<text x="566.41" y="427.5" font-size="4.5" stroke="#111" stroke-width="0.15" text-anchor="end" fill="#111">111</text>
<text x="586.37" y="423.3" font-size="4.5" stroke="#111" stroke-width="0.15" text-anchor="end" fill="#111">56</text>
<text x="586.37" y="427.5" font-size="4.5" stroke="#111" stroke-width="0.15" text-anchor="end" fill="#111">57</text>
<text x="606.33" y="423.3" font-size="4.5" stroke="#111" stroke-width="0.15" text-anchor="end" fill="#111">35</text>
<text x="606.33" y="427.5" font-size="4.5" stroke="#111" stroke-width="0.15" text-anchor="end" fill="#111">32</text>
<text x="626.29" y="423.3" font-size="4.5" stroke="#111" stroke-width="0.15" text-anchor="end" fill="#111">21</text>
<text x="626.29" y="427.5" font-size="4.5" stroke="#111" stroke-width="0.15" text-anchor="end" fill="#111">18</text>
<text x="646.25" y="423.3" font-size="4.5" stroke="#111" stroke-width="0.15" text-anchor="end" fill="#111">9</text>
<text x="646.25" y="427.5" font-size="4.5" stroke="#111" stroke-width="0.15" text-anchor="end" fill="#111">8</text>
<text x="101.7" y="482.8" font-size="8.7" stroke="#262626" stroke-width="0.12" text-anchor="middle" fill="#262626" textLength="58.5" lengthAdjust="spacingAndGlyphs">Triple Negative</text>
<path d="M49.6 498.6H59.48V505.3H69.36V507H118.76V512.5H128.64V518.5H138.52V527.4H148.4V540" stroke="#dc8a86" stroke-width="0.78" fill="none"/>
<path d="M49.6 500.1H59.48V501.3H69.36V509.4H79.24V513.3H89.12V524.2H108.88V530.4H128.64V536.4H148.4V537.6" stroke="#565656" stroke-width="0.78" fill="none"/>
<rect x="49.6" y="492.6" width="102.7" height="102.8" fill="none" stroke="#8a8a8a" stroke-width="0.9"/>
<line x1="47.4" y1="591.4" x2="49.6" y2="591.4" stroke="#555" stroke-width="0.7"/>
<text x="44.3" y="591.4" font-size="4" stroke="#222" stroke-width="0.15" text-anchor="middle" textLength="4.9" lengthAdjust="spacingAndGlyphs" transform="rotate(-90 44.3 591.4)">0.0</text>
<line x1="47.4" y1="572.4" x2="49.6" y2="572.4" stroke="#555" stroke-width="0.7"/>
<text x="44.3" y="572.4" font-size="4" stroke="#222" stroke-width="0.15" text-anchor="middle" textLength="4.9" lengthAdjust="spacingAndGlyphs" transform="rotate(-90 44.3 572.4)">0.2</text>
<line x1="47.4" y1="553.4" x2="49.6" y2="553.4" stroke="#555" stroke-width="0.7"/>
<text x="44.3" y="553.4" font-size="4" stroke="#222" stroke-width="0.15" text-anchor="middle" textLength="4.9" lengthAdjust="spacingAndGlyphs" transform="rotate(-90 44.3 553.4)">0.4</text>
<line x1="47.4" y1="534.4" x2="49.6" y2="534.4" stroke="#555" stroke-width="0.7"/>
<text x="44.3" y="534.4" font-size="4" stroke="#222" stroke-width="0.15" text-anchor="middle" textLength="4.9" lengthAdjust="spacingAndGlyphs" transform="rotate(-90 44.3 534.4)">0.6</text>
<line x1="47.4" y1="515.4" x2="49.6" y2="515.4" stroke="#555" stroke-width="0.7"/>
<text x="44.3" y="515.4" font-size="4" stroke="#222" stroke-width="0.15" text-anchor="middle" textLength="4.9" lengthAdjust="spacingAndGlyphs" transform="rotate(-90 44.3 515.4)">0.8</text>
<line x1="47.4" y1="496.4" x2="49.6" y2="496.4" stroke="#555" stroke-width="0.7"/>
<text x="44.3" y="496.4" font-size="4" stroke="#222" stroke-width="0.15" text-anchor="middle" textLength="4.9" lengthAdjust="spacingAndGlyphs" transform="rotate(-90 44.3 496.4)">1.0</text>
<text x="35.6" y="543.9" font-size="4.4" stroke="#222" stroke-width="0.12" text-anchor="middle" textLength="13" lengthAdjust="spacingAndGlyphs" transform="rotate(-90 35.6 543.9)">Survival</text>
<line x1="49.6" y1="595.4" x2="49.6" y2="597.4" stroke="#555" stroke-width="0.7"/>
<text x="49.6" y="603.6" font-size="3.8" stroke="#222" stroke-width="0.15" text-anchor="middle">0</text>
<line x1="69.36" y1="595.4" x2="69.36" y2="597.4" stroke="#555" stroke-width="0.7"/>
<text x="69.36" y="603.6" font-size="3.8" stroke="#222" stroke-width="0.15" text-anchor="middle">2</text>
<line x1="89.12" y1="595.4" x2="89.12" y2="597.4" stroke="#555" stroke-width="0.7"/>
<text x="89.12" y="603.6" font-size="3.8" stroke="#222" stroke-width="0.15" text-anchor="middle">4</text>
<line x1="108.88" y1="595.4" x2="108.88" y2="597.4" stroke="#555" stroke-width="0.7"/>
<text x="108.88" y="603.6" font-size="3.8" stroke="#222" stroke-width="0.15" text-anchor="middle">6</text>
<line x1="128.64" y1="595.4" x2="128.64" y2="597.4" stroke="#555" stroke-width="0.7"/>
<text x="128.64" y="603.6" font-size="3.8" stroke="#222" stroke-width="0.15" text-anchor="middle">8</text>
<line x1="148.4" y1="595.4" x2="148.4" y2="597.4" stroke="#555" stroke-width="0.7"/>
<text x="148.4" y="603.6" font-size="3.8" stroke="#222" stroke-width="0.15" text-anchor="middle">10</text>
<text x="101.25" y="608" font-size="5.7" stroke="#222" stroke-width="0.14" text-anchor="middle" textLength="31" lengthAdjust="spacingAndGlyphs">Time (Years)</text>
<line x1="113" y1="501.9" x2="118.6" y2="501.9" stroke="#f6c4be" stroke-width="0.95"/>
<line x1="113" y1="505.8" x2="118.6" y2="505.8" stroke="#b8bcb8" stroke-width="0.95"/>
<text x="122" y="503" font-size="3.3" stroke="#2a2a2a" stroke-width="0.06" fill="#2a2a2a" textLength="22.8" lengthAdjust="spacingAndGlyphs">lowly expressed</text>
<text x="122" y="506.9" font-size="3.3" stroke="#2a2a2a" stroke-width="0.06" fill="#2a2a2a" textLength="24" lengthAdjust="spacingAndGlyphs">highly expressed</text>
<text x="151.5" y="593.8" font-size="3.7" stroke="#111" stroke-width="0.12" text-anchor="end" fill="#111" textLength="40" lengthAdjust="spacingAndGlyphs">logrank test pvalue=0.21</text>
<text x="39.3" y="611.9" font-size="4.5" stroke="#111" stroke-width="0.2" text-anchor="end" font-weight="bold" fill="#111" textLength="24" lengthAdjust="spacingAndGlyphs">No. At Risk</text>
<text x="39.3" y="616.4" font-size="4.5" stroke="#111" stroke-width="0.15" text-anchor="end" fill="#111" textLength="32.3" lengthAdjust="spacingAndGlyphs">lowly expressed</text>
<text x="39.3" y="620.3" font-size="4.5" stroke="#111" stroke-width="0.15" text-anchor="end" fill="#111" textLength="34.1" lengthAdjust="spacingAndGlyphs">highly expressed</text>
<text x="49.65" y="616.4" font-size="4.5" stroke="#111" stroke-width="0.15" text-anchor="end" fill="#111">108</text>
<text x="49.65" y="620.3" font-size="4.5" stroke="#111" stroke-width="0.15" text-anchor="end" fill="#111">109</text>
<text x="69.41" y="616.4" font-size="4.5" stroke="#111" stroke-width="0.15" text-anchor="end" fill="#111">57</text>
<text x="69.41" y="620.3" font-size="4.5" stroke="#111" stroke-width="0.15" text-anchor="end" fill="#111">64</text>
<text x="89.17" y="616.4" font-size="4.5" stroke="#111" stroke-width="0.15" text-anchor="end" fill="#111">33</text>
<text x="89.17" y="620.3" font-size="4.5" stroke="#111" stroke-width="0.15" text-anchor="end" fill="#111">37</text>
<text x="108.93" y="616.4" font-size="4.5" stroke="#111" stroke-width="0.15" text-anchor="end" fill="#111">23</text>
<text x="108.93" y="620.3" font-size="4.5" stroke="#111" stroke-width="0.15" text-anchor="end" fill="#111">20</text>
<text x="128.69" y="616.4" font-size="4.5" stroke="#111" stroke-width="0.15" text-anchor="end" fill="#111">14</text>
<text x="128.69" y="620.3" font-size="4.5" stroke="#111" stroke-width="0.15" text-anchor="end" fill="#111">10</text>
<text x="148.45" y="616.4" font-size="4.5" stroke="#111" stroke-width="0.15" text-anchor="end" fill="#111">5</text>
<text x="148.45" y="620.3" font-size="4.5" stroke="#111" stroke-width="0.15" text-anchor="end" fill="#111">3</text>
<text x="269.1" y="483" font-size="8.7" stroke="#262626" stroke-width="0.12" text-anchor="middle" fill="#262626" textLength="28" lengthAdjust="spacingAndGlyphs">HER2+</text>
<path d="M216.6 498.2H236.62V508.2H246.63V512.1H256.64V520.6H316.7V520.9" stroke="#dc8a86" stroke-width="0.78" fill="none"/>
<path d="M216.6 498.4H226.61V502.4H246.63V509.5H316.7V563.3" stroke="#565656" stroke-width="0.78" fill="none"/>
<rect x="216.6" y="490.4" width="104" height="104.3" fill="none" stroke="#8a8a8a" stroke-width="0.9"/>
<line x1="214.4" y1="591" x2="216.6" y2="591" stroke="#555" stroke-width="0.7"/>
<text x="211.3" y="591" font-size="4" stroke="#222" stroke-width="0.15" text-anchor="middle" textLength="4.9" lengthAdjust="spacingAndGlyphs" transform="rotate(-90 211.3 591)">0.0</text>
<line x1="214.4" y1="571.7" x2="216.6" y2="571.7" stroke="#555" stroke-width="0.7"/>
<text x="211.3" y="571.7" font-size="4" stroke="#222" stroke-width="0.15" text-anchor="middle" textLength="4.9" lengthAdjust="spacingAndGlyphs" transform="rotate(-90 211.3 571.7)">0.2</text>
<line x1="214.4" y1="552.4" x2="216.6" y2="552.4" stroke="#555" stroke-width="0.7"/>
<text x="211.3" y="552.4" font-size="4" stroke="#222" stroke-width="0.15" text-anchor="middle" textLength="4.9" lengthAdjust="spacingAndGlyphs" transform="rotate(-90 211.3 552.4)">0.4</text>
<line x1="214.4" y1="533.1" x2="216.6" y2="533.1" stroke="#555" stroke-width="0.7"/>
<text x="211.3" y="533.1" font-size="4" stroke="#222" stroke-width="0.15" text-anchor="middle" textLength="4.9" lengthAdjust="spacingAndGlyphs" transform="rotate(-90 211.3 533.1)">0.6</text>
<line x1="214.4" y1="513.8" x2="216.6" y2="513.8" stroke="#555" stroke-width="0.7"/>
<text x="211.3" y="513.8" font-size="4" stroke="#222" stroke-width="0.15" text-anchor="middle" textLength="4.9" lengthAdjust="spacingAndGlyphs" transform="rotate(-90 211.3 513.8)">0.8</text>
<line x1="214.4" y1="494.5" x2="216.6" y2="494.5" stroke="#555" stroke-width="0.7"/>
<text x="211.3" y="494.5" font-size="4" stroke="#222" stroke-width="0.15" text-anchor="middle" textLength="4.9" lengthAdjust="spacingAndGlyphs" transform="rotate(-90 211.3 494.5)">1.0</text>
<text x="202.6" y="542.75" font-size="4.4" stroke="#222" stroke-width="0.12" text-anchor="middle" textLength="13" lengthAdjust="spacingAndGlyphs" transform="rotate(-90 202.6 542.75)">Survival</text>
<line x1="216.6" y1="594.7" x2="216.6" y2="596.7" stroke="#555" stroke-width="0.7"/>
<text x="216.6" y="602.9" font-size="3.8" stroke="#222" stroke-width="0.15" text-anchor="middle">0</text>
<line x1="236.62" y1="594.7" x2="236.62" y2="596.7" stroke="#555" stroke-width="0.7"/>
<text x="236.62" y="602.9" font-size="3.8" stroke="#222" stroke-width="0.15" text-anchor="middle">2</text>
<line x1="256.64" y1="594.7" x2="256.64" y2="596.7" stroke="#555" stroke-width="0.7"/>
<text x="256.64" y="602.9" font-size="3.8" stroke="#222" stroke-width="0.15" text-anchor="middle">4</text>
<line x1="276.66" y1="594.7" x2="276.66" y2="596.7" stroke="#555" stroke-width="0.7"/>
<text x="276.66" y="602.9" font-size="3.8" stroke="#222" stroke-width="0.15" text-anchor="middle">6</text>
<line x1="296.68" y1="594.7" x2="296.68" y2="596.7" stroke="#555" stroke-width="0.7"/>
<text x="296.68" y="602.9" font-size="3.8" stroke="#222" stroke-width="0.15" text-anchor="middle">8</text>
<line x1="316.7" y1="594.7" x2="316.7" y2="596.7" stroke="#555" stroke-width="0.7"/>
<text x="316.7" y="602.9" font-size="3.8" stroke="#222" stroke-width="0.15" text-anchor="middle">10</text>
<text x="268.9" y="607.3" font-size="5.7" stroke="#222" stroke-width="0.14" text-anchor="middle" textLength="31" lengthAdjust="spacingAndGlyphs">Time (Years)</text>
<line x1="281.3" y1="499.7" x2="286.9" y2="499.7" stroke="#f6c4be" stroke-width="0.95"/>
<line x1="281.3" y1="503.6" x2="286.9" y2="503.6" stroke="#b8bcb8" stroke-width="0.95"/>
<text x="290.3" y="500.8" font-size="3.3" stroke="#2a2a2a" stroke-width="0.06" fill="#2a2a2a" textLength="22.8" lengthAdjust="spacingAndGlyphs">lowly expressed</text>
<text x="290.3" y="504.7" font-size="3.3" stroke="#2a2a2a" stroke-width="0.06" fill="#2a2a2a" textLength="24" lengthAdjust="spacingAndGlyphs">highly expressed</text>
<text x="319.8" y="593.1" font-size="3.7" stroke="#111" stroke-width="0.12" text-anchor="end" fill="#111" textLength="40" lengthAdjust="spacingAndGlyphs">logrank test pvalue=0.79</text>
<text x="206.3" y="611.2" font-size="4.5" stroke="#111" stroke-width="0.2" text-anchor="end" font-weight="bold" fill="#111" textLength="24" lengthAdjust="spacingAndGlyphs">No. At Risk</text>
<text x="206.3" y="615.7" font-size="4.5" stroke="#111" stroke-width="0.15" text-anchor="end" fill="#111" textLength="32.3" lengthAdjust="spacingAndGlyphs">lowly expressed</text>
<text x="206.3" y="619.6" font-size="4.5" stroke="#111" stroke-width="0.15" text-anchor="end" fill="#111" textLength="34.1" lengthAdjust="spacingAndGlyphs">highly expressed</text>
<text x="216.65" y="615.7" font-size="4.5" stroke="#111" stroke-width="0.15" text-anchor="end" fill="#111">51</text>
<text x="216.65" y="619.6" font-size="4.5" stroke="#111" stroke-width="0.15" text-anchor="end" fill="#111">51</text>
<text x="236.67" y="615.7" font-size="4.5" stroke="#111" stroke-width="0.15" text-anchor="end" fill="#111">28</text>
<text x="236.67" y="619.6" font-size="4.5" stroke="#111" stroke-width="0.15" text-anchor="end" fill="#111">28</text>
<text x="256.69" y="615.7" font-size="4.5" stroke="#111" stroke-width="0.15" text-anchor="end" fill="#111">18</text>
<text x="256.69" y="619.6" font-size="4.5" stroke="#111" stroke-width="0.15" text-anchor="end" fill="#111">15</text>
<text x="276.71" y="615.7" font-size="4.5" stroke="#111" stroke-width="0.15" text-anchor="end" fill="#111">8</text>
<text x="276.71" y="619.6" font-size="4.5" stroke="#111" stroke-width="0.15" text-anchor="end" fill="#111">10</text>
<text x="296.73" y="615.7" font-size="4.5" stroke="#111" stroke-width="0.15" text-anchor="end" fill="#111">3</text>
<text x="296.73" y="619.6" font-size="4.5" stroke="#111" stroke-width="0.15" text-anchor="end" fill="#111">5</text>
<text x="316.75" y="615.7" font-size="4.5" stroke="#111" stroke-width="0.15" text-anchor="end" fill="#111">1</text>
<text x="316.75" y="619.6" font-size="4.5" stroke="#111" stroke-width="0.15" text-anchor="end" fill="#111">3</text>
<text x="433.7" y="483.3" font-size="8.7" stroke="#262626" stroke-width="0.12" text-anchor="middle" fill="#262626" textLength="38.4" lengthAdjust="spacingAndGlyphs">Luminal A</text>
<path d="M381.7 494.7H391.59V496.1H401.48V497.3H411.37V498.7H421.26V501.3H431.15V505.4H441.04V509.3H450.93V517.3H460.82V520.6H470.71V526.4H480.6V534.4" stroke="#dc8a86" stroke-width="0.78" fill="none"/>
<path d="M381.7 495H391.59V496.3H401.48V503.3H411.37V506.2H421.26V507.4H431.15V511.2H441.04V516.5H450.93V520.4H460.82V520.9H470.71V551.1H480.6V577.4" stroke="#565656" stroke-width="0.78" fill="none"/>
<rect x="381.7" y="490.9" width="102.8" height="103.3" fill="none" stroke="#8a8a8a" stroke-width="0.9"/>
<line x1="379.5" y1="590.6" x2="381.7" y2="590.6" stroke="#555" stroke-width="0.7"/>
<text x="376.4" y="590.6" font-size="4" stroke="#222" stroke-width="0.15" text-anchor="middle" textLength="4.9" lengthAdjust="spacingAndGlyphs" transform="rotate(-90 376.4 590.6)">0.0</text>
<line x1="379.5" y1="571.4" x2="381.7" y2="571.4" stroke="#555" stroke-width="0.7"/>
<text x="376.4" y="571.4" font-size="4" stroke="#222" stroke-width="0.15" text-anchor="middle" textLength="4.9" lengthAdjust="spacingAndGlyphs" transform="rotate(-90 376.4 571.4)">0.2</text>
<line x1="379.5" y1="552.2" x2="381.7" y2="552.2" stroke="#555" stroke-width="0.7"/>
<text x="376.4" y="552.2" font-size="4" stroke="#222" stroke-width="0.15" text-anchor="middle" textLength="4.9" lengthAdjust="spacingAndGlyphs" transform="rotate(-90 376.4 552.2)">0.4</text>
<line x1="379.5" y1="533" x2="381.7" y2="533" stroke="#555" stroke-width="0.7"/>
<text x="376.4" y="533" font-size="4" stroke="#222" stroke-width="0.15" text-anchor="middle" textLength="4.9" lengthAdjust="spacingAndGlyphs" transform="rotate(-90 376.4 533)">0.6</text>
<line x1="379.5" y1="513.8" x2="381.7" y2="513.8" stroke="#555" stroke-width="0.7"/>
<text x="376.4" y="513.8" font-size="4" stroke="#222" stroke-width="0.15" text-anchor="middle" textLength="4.9" lengthAdjust="spacingAndGlyphs" transform="rotate(-90 376.4 513.8)">0.8</text>
<line x1="379.5" y1="494.6" x2="381.7" y2="494.6" stroke="#555" stroke-width="0.7"/>
<text x="376.4" y="494.6" font-size="4" stroke="#222" stroke-width="0.15" text-anchor="middle" textLength="4.9" lengthAdjust="spacingAndGlyphs" transform="rotate(-90 376.4 494.6)">1.0</text>
<text x="367.7" y="542.6" font-size="4.4" stroke="#222" stroke-width="0.12" text-anchor="middle" textLength="13" lengthAdjust="spacingAndGlyphs" transform="rotate(-90 367.7 542.6)">Survival</text>
<line x1="381.7" y1="594.2" x2="381.7" y2="596.2" stroke="#555" stroke-width="0.7"/>
<text x="381.7" y="602.4" font-size="3.8" stroke="#222" stroke-width="0.15" text-anchor="middle">0</text>
<line x1="401.48" y1="594.2" x2="401.48" y2="596.2" stroke="#555" stroke-width="0.7"/>
<text x="401.48" y="602.4" font-size="3.8" stroke="#222" stroke-width="0.15" text-anchor="middle">2</text>
<line x1="421.26" y1="594.2" x2="421.26" y2="596.2" stroke="#555" stroke-width="0.7"/>
<text x="421.26" y="602.4" font-size="3.8" stroke="#222" stroke-width="0.15" text-anchor="middle">4</text>
<line x1="441.04" y1="594.2" x2="441.04" y2="596.2" stroke="#555" stroke-width="0.7"/>
<text x="441.04" y="602.4" font-size="3.8" stroke="#222" stroke-width="0.15" text-anchor="middle">6</text>
<line x1="460.82" y1="594.2" x2="460.82" y2="596.2" stroke="#555" stroke-width="0.7"/>
<text x="460.82" y="602.4" font-size="3.8" stroke="#222" stroke-width="0.15" text-anchor="middle">8</text>
<line x1="480.6" y1="594.2" x2="480.6" y2="596.2" stroke="#555" stroke-width="0.7"/>
<text x="480.6" y="602.4" font-size="3.8" stroke="#222" stroke-width="0.15" text-anchor="middle">10</text>
<text x="433.4" y="606.8" font-size="5.7" stroke="#222" stroke-width="0.14" text-anchor="middle" textLength="31" lengthAdjust="spacingAndGlyphs">Time (Years)</text>
<line x1="445.2" y1="500.2" x2="450.8" y2="500.2" stroke="#f6c4be" stroke-width="0.95"/>
<line x1="445.2" y1="504.1" x2="450.8" y2="504.1" stroke="#b8bcb8" stroke-width="0.95"/>
<text x="454.2" y="501.3" font-size="3.3" stroke="#2a2a2a" stroke-width="0.06" fill="#2a2a2a" textLength="22.8" lengthAdjust="spacingAndGlyphs">lowly expressed</text>
<text x="454.2" y="505.2" font-size="3.3" stroke="#2a2a2a" stroke-width="0.06" fill="#2a2a2a" textLength="24" lengthAdjust="spacingAndGlyphs">highly expressed</text>
<text x="483.7" y="592.6" font-size="3.7" stroke="#111" stroke-width="0.12" text-anchor="end" fill="#111" textLength="40" lengthAdjust="spacingAndGlyphs">logrank test pvalue=0.04</text>
<text x="371.4" y="610.7" font-size="4.5" stroke="#111" stroke-width="0.2" text-anchor="end" font-weight="bold" fill="#111" textLength="24" lengthAdjust="spacingAndGlyphs">No. At Risk</text>
<text x="371.4" y="615.2" font-size="4.5" stroke="#111" stroke-width="0.15" text-anchor="end" fill="#111" textLength="32.3" lengthAdjust="spacingAndGlyphs">lowly expressed</text>
<text x="371.4" y="619.1" font-size="4.5" stroke="#111" stroke-width="0.15" text-anchor="end" fill="#111" textLength="34.1" lengthAdjust="spacingAndGlyphs">highly expressed</text>
<text x="381.75" y="615.2" font-size="4.5" stroke="#111" stroke-width="0.15" text-anchor="end" fill="#111">173</text>
<text x="381.75" y="619.1" font-size="4.5" stroke="#111" stroke-width="0.15" text-anchor="end" fill="#111">175</text>
<text x="401.53" y="615.2" font-size="4.5" stroke="#111" stroke-width="0.15" text-anchor="end" fill="#111">108</text>
<text x="401.53" y="619.1" font-size="4.5" stroke="#111" stroke-width="0.15" text-anchor="end" fill="#111">92</text>
<text x="421.31" y="615.2" font-size="4.5" stroke="#111" stroke-width="0.15" text-anchor="end" fill="#111">64</text>
<text x="421.31" y="619.1" font-size="4.5" stroke="#111" stroke-width="0.15" text-anchor="end" fill="#111">54</text>
<text x="441.09" y="615.2" font-size="4.5" stroke="#111" stroke-width="0.15" text-anchor="end" fill="#111">41</text>
<text x="441.09" y="619.1" font-size="4.5" stroke="#111" stroke-width="0.15" text-anchor="end" fill="#111">30</text>
<text x="460.87" y="615.2" font-size="4.5" stroke="#111" stroke-width="0.15" text-anchor="end" fill="#111">19</text>
<text x="460.87" y="619.1" font-size="4.5" stroke="#111" stroke-width="0.15" text-anchor="end" fill="#111">15</text>
<text x="480.65" y="615.2" font-size="4.5" stroke="#111" stroke-width="0.15" text-anchor="end" fill="#111">8</text>
<text x="480.65" y="619.1" font-size="4.5" stroke="#111" stroke-width="0.15" text-anchor="end" fill="#111">3</text>
<text x="598.6" y="483" font-size="8.7" stroke="#262626" stroke-width="0.12" text-anchor="middle" fill="#262626" textLength="39.2" lengthAdjust="spacingAndGlyphs">Luminal B</text>
<path d="M547.4 495.2H557.41V498.2H567.42V504H577.43V509.3H587.44V509.9H597.45V515.4H607.46V521.7H617.47V528.8H637.49V532.5H647.5V532.5" stroke="#dc8a86" stroke-width="0.78" fill="none"/>
<path d="M547.4 495.2H567.42V498.4H577.43V501H587.44V509.3H597.45V511.4H607.46V523.6H627.48V531.2H647.5V560.7" stroke="#565656" stroke-width="0.78" fill="none"/>
<rect x="547.4" y="489.4" width="104" height="104.1" fill="none" stroke="#8a8a8a" stroke-width="0.9"/>
<line x1="545.2" y1="590" x2="547.4" y2="590" stroke="#555" stroke-width="0.7"/>
<text x="542.1" y="590" font-size="4" stroke="#222" stroke-width="0.15" text-anchor="middle" textLength="4.9" lengthAdjust="spacingAndGlyphs" transform="rotate(-90 542.1 590)">0.0</text>
<line x1="545.2" y1="570.64" x2="547.4" y2="570.64" stroke="#555" stroke-width="0.7"/>
<text x="542.1" y="570.64" font-size="4" stroke="#222" stroke-width="0.15" text-anchor="middle" textLength="4.9" lengthAdjust="spacingAndGlyphs" transform="rotate(-90 542.1 570.64)">0.2</text>
<line x1="545.2" y1="551.28" x2="547.4" y2="551.28" stroke="#555" stroke-width="0.7"/>
<text x="542.1" y="551.28" font-size="4" stroke="#222" stroke-width="0.15" text-anchor="middle" textLength="4.9" lengthAdjust="spacingAndGlyphs" transform="rotate(-90 542.1 551.28)">0.4</text>
<line x1="545.2" y1="531.92" x2="547.4" y2="531.92" stroke="#555" stroke-width="0.7"/>
<text x="542.1" y="531.92" font-size="4" stroke="#222" stroke-width="0.15" text-anchor="middle" textLength="4.9" lengthAdjust="spacingAndGlyphs" transform="rotate(-90 542.1 531.92)">0.6</text>
<line x1="545.2" y1="512.56" x2="547.4" y2="512.56" stroke="#555" stroke-width="0.7"/>
<text x="542.1" y="512.56" font-size="4" stroke="#222" stroke-width="0.15" text-anchor="middle" textLength="4.9" lengthAdjust="spacingAndGlyphs" transform="rotate(-90 542.1 512.56)">0.8</text>
<line x1="545.2" y1="493.2" x2="547.4" y2="493.2" stroke="#555" stroke-width="0.7"/>
<text x="542.1" y="493.2" font-size="4" stroke="#222" stroke-width="0.15" text-anchor="middle" textLength="4.9" lengthAdjust="spacingAndGlyphs" transform="rotate(-90 542.1 493.2)">1.0</text>
<text x="533.4" y="541.6" font-size="4.4" stroke="#222" stroke-width="0.12" text-anchor="middle" textLength="13" lengthAdjust="spacingAndGlyphs" transform="rotate(-90 533.4 541.6)">Survival</text>
<line x1="547.4" y1="593.5" x2="547.4" y2="595.5" stroke="#555" stroke-width="0.7"/>
<text x="547.4" y="601.7" font-size="3.8" stroke="#222" stroke-width="0.15" text-anchor="middle">0</text>
<line x1="567.42" y1="593.5" x2="567.42" y2="595.5" stroke="#555" stroke-width="0.7"/>
<text x="567.42" y="601.7" font-size="3.8" stroke="#222" stroke-width="0.15" text-anchor="middle">2</text>
<line x1="587.44" y1="593.5" x2="587.44" y2="595.5" stroke="#555" stroke-width="0.7"/>
<text x="587.44" y="601.7" font-size="3.8" stroke="#222" stroke-width="0.15" text-anchor="middle">4</text>
<line x1="607.46" y1="593.5" x2="607.46" y2="595.5" stroke="#555" stroke-width="0.7"/>
<text x="607.46" y="601.7" font-size="3.8" stroke="#222" stroke-width="0.15" text-anchor="middle">6</text>
<line x1="627.48" y1="593.5" x2="627.48" y2="595.5" stroke="#555" stroke-width="0.7"/>
<text x="627.48" y="601.7" font-size="3.8" stroke="#222" stroke-width="0.15" text-anchor="middle">8</text>
<line x1="647.5" y1="593.5" x2="647.5" y2="595.5" stroke="#555" stroke-width="0.7"/>
<text x="647.5" y="601.7" font-size="3.8" stroke="#222" stroke-width="0.15" text-anchor="middle">10</text>
<text x="599.7" y="606.1" font-size="5.7" stroke="#222" stroke-width="0.14" text-anchor="middle" textLength="31" lengthAdjust="spacingAndGlyphs">Time (Years)</text>
<line x1="612.1" y1="498.7" x2="617.7" y2="498.7" stroke="#f6c4be" stroke-width="0.95"/>
<line x1="612.1" y1="502.6" x2="617.7" y2="502.6" stroke="#b8bcb8" stroke-width="0.95"/>
<text x="621.1" y="499.8" font-size="3.3" stroke="#2a2a2a" stroke-width="0.06" fill="#2a2a2a" textLength="22.8" lengthAdjust="spacingAndGlyphs">lowly expressed</text>
<text x="621.1" y="503.7" font-size="3.3" stroke="#2a2a2a" stroke-width="0.06" fill="#2a2a2a" textLength="24" lengthAdjust="spacingAndGlyphs">highly expressed</text>
<text x="650.6" y="591.9" font-size="3.7" stroke="#111" stroke-width="0.12" text-anchor="end" fill="#111" textLength="40" lengthAdjust="spacingAndGlyphs">logrank test pvalue=0.49</text>
<text x="537.1" y="610" font-size="4.5" stroke="#111" stroke-width="0.2" text-anchor="end" font-weight="bold" fill="#111" textLength="24" lengthAdjust="spacingAndGlyphs">No. At Risk</text>
<text x="537.1" y="614.5" font-size="4.5" stroke="#111" stroke-width="0.15" text-anchor="end" fill="#111" textLength="32.3" lengthAdjust="spacingAndGlyphs">lowly expressed</text>
<text x="537.1" y="618.4" font-size="4.5" stroke="#111" stroke-width="0.15" text-anchor="end" fill="#111" textLength="34.1" lengthAdjust="spacingAndGlyphs">highly expressed</text>
<text x="547.45" y="614.5" font-size="4.5" stroke="#111" stroke-width="0.15" text-anchor="end" fill="#111">210</text>
<text x="547.45" y="618.4" font-size="4.5" stroke="#111" stroke-width="0.15" text-anchor="end" fill="#111">206</text>
<text x="567.47" y="614.5" font-size="4.5" stroke="#111" stroke-width="0.15" text-anchor="end" fill="#111">115</text>
<text x="567.47" y="618.4" font-size="4.5" stroke="#111" stroke-width="0.15" text-anchor="end" fill="#111">110</text>
<text x="587.49" y="614.5" font-size="4.5" stroke="#111" stroke-width="0.15" text-anchor="end" fill="#111">58</text>
<text x="587.49" y="618.4" font-size="4.5" stroke="#111" stroke-width="0.15" text-anchor="end" fill="#111">55</text>
<text x="607.51" y="614.5" font-size="4.5" stroke="#111" stroke-width="0.15" text-anchor="end" fill="#111">36</text>
<text x="607.51" y="618.4" font-size="4.5" stroke="#111" stroke-width="0.15" text-anchor="end" fill="#111">31</text>
<text x="627.53" y="614.5" font-size="4.5" stroke="#111" stroke-width="0.15" text-anchor="end" fill="#111">22</text>
<text x="627.53" y="618.4" font-size="4.5" stroke="#111" stroke-width="0.15" text-anchor="end" fill="#111">17</text>
<text x="647.55" y="614.5" font-size="4.5" stroke="#111" stroke-width="0.15" text-anchor="end" fill="#111">11</text>
<text x="647.55" y="618.4" font-size="4.5" stroke="#111" stroke-width="0.15" text-anchor="end" fill="#111">6</text>
<text x="1.7" y="654.3" font-size="12.2" stroke="#2a2a2a" stroke-width="0.2" fill="#2a2a2a" textLength="10.3" lengthAdjust="spacingAndGlyphs">D.</text>
<text x="15.7" y="654.3" font-size="12.2" stroke="#2a2a2a" stroke-width="0.2" fill="#2a2a2a" textLength="46.9" lengthAdjust="spacingAndGlyphs">D-Index:</text>
<text x="65.8" y="654.3" font-size="12.2" stroke="#2a2a2a" stroke-width="0.2" fill="#2a2a2a" textLength="58.5" lengthAdjust="spacingAndGlyphs">Expression</text>
<text x="127.1" y="654.3" font-size="12.2" stroke="#2a2a2a" stroke-width="0.2" fill="#2a2a2a" textLength="14.8" lengthAdjust="spacingAndGlyphs">vs.</text>
<text x="145.1" y="654.3" font-size="12.2" stroke="#2a2a2a" stroke-width="0.2" fill="#2a2a2a" textLength="32.9" lengthAdjust="spacingAndGlyphs">Overall</text>
<text x="180" y="654.3" font-size="12.2" stroke="#2a2a2a" stroke-width="0.2" fill="#2a2a2a" textLength="38" lengthAdjust="spacingAndGlyphs">Survival</text>
<rect x="50.1" y="663.5" width="2.8" height="217.5" fill="#d6d6d6" stroke="none" stroke-width="1"/>
<line x1="51.9" y1="883" x2="261.3" y2="883" stroke="#444" stroke-width="0.8"/>
<line x1="51.9" y1="883" x2="51.9" y2="888.5" stroke="#444" stroke-width="0.8"/>
<text x="51.9" y="903.6" font-size="9.4" text-anchor="middle" fill="#333">0</text>
<line x1="78.08" y1="883" x2="78.08" y2="888.5" stroke="#444" stroke-width="0.8"/>
<text x="78.08" y="903.6" font-size="9.4" text-anchor="middle" fill="#333">0.5</text>
<line x1="104.25" y1="883" x2="104.25" y2="888.5" stroke="#444" stroke-width="0.8"/>
<text x="104.25" y="903.6" font-size="9.4" text-anchor="middle" fill="#333">1</text>
<line x1="130.43" y1="883" x2="130.43" y2="888.5" stroke="#444" stroke-width="0.8"/>
<text x="130.43" y="903.6" font-size="9.4" text-anchor="middle" fill="#333">1.5</text>
<line x1="156.6" y1="883" x2="156.6" y2="888.5" stroke="#444" stroke-width="0.8"/>
<text x="156.6" y="903.6" font-size="9.4" text-anchor="middle" fill="#333">2</text>
<line x1="182.78" y1="883" x2="182.78" y2="888.5" stroke="#444" stroke-width="0.8"/>
<text x="182.78" y="903.6" font-size="9.4" text-anchor="middle" fill="#333">2.5</text>
<line x1="208.95" y1="883" x2="208.95" y2="888.5" stroke="#444" stroke-width="0.8"/>
<text x="208.95" y="903.6" font-size="9.4" text-anchor="middle" fill="#333">3</text>
<line x1="235.12" y1="883" x2="235.12" y2="888.5" stroke="#444" stroke-width="0.8"/>
<text x="235.12" y="903.6" font-size="9.4" text-anchor="middle" fill="#333">3.5</text>
<line x1="261.3" y1="883" x2="261.3" y2="888.5" stroke="#444" stroke-width="0.8"/>
<text x="261.3" y="903.6" font-size="9.4" text-anchor="middle" fill="#333">4</text>
<text x="120.1" y="915.7" font-size="9.8" font-weight="bold" fill="#111" textLength="71.4" lengthAdjust="spacingAndGlyphs">Log2 D−index</text>
<text x="4.6" y="688.2" font-size="10.2" stroke="#2a2a2a" stroke-width="0.2" fill="#2a2a2a" textLength="28.9" lengthAdjust="spacingAndGlyphs">THRα1</text>
<text x="6" y="732.5" font-size="10.2" stroke="#2a2a2a" stroke-width="0.2" fill="#2a2a2a" textLength="29.8" lengthAdjust="spacingAndGlyphs">THRα2</text>
<text x="4.6" y="774.6" font-size="10.2" stroke="#2a2a2a" stroke-width="0.2" fill="#2a2a2a" textLength="30.1" lengthAdjust="spacingAndGlyphs">THRα3</text>
<text x="4.6" y="819.5" font-size="10.2" stroke="#2a2a2a" stroke-width="0.2" fill="#2a2a2a" textLength="30.1" lengthAdjust="spacingAndGlyphs">THRα4</text>
<text x="7.8" y="864.3" font-size="10.2" stroke="#2a2a2a" stroke-width="0.2" fill="#2a2a2a" textLength="24.4" lengthAdjust="spacingAndGlyphs">THRα</text>
<line x1="107.2" y1="673.1" x2="181.5" y2="673.1" stroke="#66c2a5" stroke-width="0.8" stroke-opacity="0.88"/>
<rect x="135.35" y="671.45" width="3.3" height="3.3" fill="#66c2a5" stroke="none" stroke-width="1"/>
<line x1="91" y1="681.5" x2="131.8" y2="681.5" stroke="#fc8d62" stroke-width="0.8" stroke-opacity="0.88"/>
<rect x="105.9" y="679.5" width="4" height="4" fill="#fc8d62" stroke="none" stroke-width="1"/>
<line x1="102.1" y1="689.4" x2="198" y2="689.4" stroke="#8da0cb" stroke-width="0.8" stroke-opacity="0.88"/>
<rect x="136.1" y="688" width="2.8" height="2.8" fill="#8da0cb" stroke="none" stroke-width="1"/>
<line x1="86.4" y1="698.5" x2="116.4" y2="698.5" stroke="#e78ac3" stroke-width="0.8" stroke-opacity="0.88"/>
<rect x="97" y="696.2" width="4.6" height="4.6" fill="#e78ac3" stroke="none" stroke-width="1"/>
<line x1="98.9" y1="717" x2="139.4" y2="717" stroke="#66c2a5" stroke-width="0.8" stroke-opacity="0.88"/>
<rect x="114.2" y="715" width="4" height="4" fill="#66c2a5" stroke="none" stroke-width="1"/>
<line x1="85.1" y1="725.3" x2="115.8" y2="725.3" stroke="#fc8d62" stroke-width="0.8" stroke-opacity="0.88"/>
<rect x="95.6" y="723.1" width="4.4" height="4.4" fill="#fc8d62" stroke="none" stroke-width="1"/>
<line x1="99.7" y1="733.3" x2="183.9" y2="733.3" stroke="#8da0cb" stroke-width="0.8" stroke-opacity="0.88"/>
<rect x="130.1" y="731.9" width="2.8" height="2.8" fill="#8da0cb" stroke="none" stroke-width="1"/>
<line x1="85.1" y1="741.6" x2="112.2" y2="741.6" stroke="#e78ac3" stroke-width="0.8" stroke-opacity="0.88"/>
<rect x="94.1" y="739.2" width="4.8" height="4.8" fill="#e78ac3" stroke="none" stroke-width="1"/>
<line x1="102.9" y1="761.6" x2="127.9" y2="761.6" stroke="#66c2a5" stroke-width="0.8" stroke-opacity="0.88"/>
<rect x="111.7" y="759" width="5.2" height="5.2" fill="#66c2a5" stroke="none" stroke-width="1"/>
<line x1="95.1" y1="769.4" x2="113.5" y2="769.4" stroke="#fc8d62" stroke-width="0.8" stroke-opacity="0.88"/>
<rect x="100.1" y="766" width="6.8" height="6.8" fill="#fc8d62" stroke="none" stroke-width="1"/>
<line x1="102.1" y1="777.1" x2="137.4" y2="777.1" stroke="#8da0cb" stroke-width="0.8" stroke-opacity="0.88"/>
<rect x="115.2" y="774.8" width="4.6" height="4.6" fill="#8da0cb" stroke="none" stroke-width="1"/>
<line x1="99.7" y1="784.6" x2="117.2" y2="784.6" stroke="#e78ac3" stroke-width="0.8" stroke-opacity="0.88"/>
<rect x="104.4" y="781.2" width="6.8" height="6.8" fill="#e78ac3" stroke="none" stroke-width="1"/>
<line x1="52.9" y1="805" x2="261.3" y2="805" stroke="#66c2a5" stroke-width="0.8" stroke-opacity="0.88"/>
<rect x="54.5" y="804.2" width="1.6" height="1.6" fill="#66c2a5" stroke="none" stroke-width="1"/>
<line x1="88.2" y1="813.1" x2="122.4" y2="813.1" stroke="#fc8d62" stroke-width="0.8" stroke-opacity="0.88"/>
<rect x="100.3" y="810.9" width="4.4" height="4.4" fill="#fc8d62" stroke="none" stroke-width="1"/>
<line x1="95.7" y1="821.2" x2="120.9" y2="821.2" stroke="#8da0cb" stroke-width="0.8" stroke-opacity="0.88"/>
<rect x="103.95" y="818.45" width="5.5" height="5.5" fill="#8da0cb" stroke="none" stroke-width="1"/>
<line x1="93.3" y1="829.3" x2="115.7" y2="829.3" stroke="#e78ac3" stroke-width="0.8" stroke-opacity="0.88"/>
<rect x="100.15" y="826.35" width="5.9" height="5.9" fill="#e78ac3" stroke="none" stroke-width="1"/>
<line x1="104.3" y1="848.2" x2="162.9" y2="848.2" stroke="#66c2a5" stroke-width="0.8" stroke-opacity="0.88"/>
<rect x="126.7" y="846.7" width="3" height="3" fill="#66c2a5" stroke="none" stroke-width="1"/>
<line x1="88.2" y1="856.7" x2="123.6" y2="856.7" stroke="#fc8d62" stroke-width="0.8" stroke-opacity="0.88"/>
<rect x="101" y="854.6" width="4.2" height="4.2" fill="#fc8d62" stroke="none" stroke-width="1"/>
<line x1="112.2" y1="865.2" x2="259.5" y2="865.2" stroke="#8da0cb" stroke-width="0.8" stroke-opacity="0.88"/>
<rect x="162.4" y="864.1" width="2.2" height="2.2" fill="#8da0cb" stroke="none" stroke-width="1"/>
<line x1="83.8" y1="873.2" x2="116.2" y2="873.2" stroke="#e78ac3" stroke-width="0.8" stroke-opacity="0.88"/>
<rect x="95.55" y="871.35" width="3.7" height="3.7" fill="#e78ac3" stroke="none" stroke-width="1"/>
<rect x="64.1" y="664.8" width="11.8" height="11.1" fill="none" stroke="#cc2525" stroke-width="1.9"/>
<path d="M67.6 670.95L72 670.95M68.7 669.04L70.9 672.86M70.9 669.04L68.7 672.86" stroke="#333" stroke-width="1.05" fill="none"/>
<rect x="63.9" y="754.2" width="12" height="11.1" fill="none" stroke="#cc2525" stroke-width="1.9"/>
<path d="M67.5 760.35L71.9 760.35M68.6 758.44L70.8 762.26M70.8 758.44L68.6 762.26" stroke="#333" stroke-width="1.05" fill="none"/>
<rect x="63.9" y="770.2" width="12" height="11.1" fill="none" stroke="#cc2525" stroke-width="1.9"/>
<path d="M67.5 776.35L71.9 776.35M68.6 774.44L70.8 778.26M70.8 774.44L68.6 778.26" stroke="#333" stroke-width="1.05" fill="none"/>
<rect x="63.9" y="840.5" width="12" height="11.4" fill="none" stroke="#cc2525" stroke-width="1.9"/>
<path d="M67.5 846.8L71.9 846.8M68.6 844.89L70.8 848.71M70.8 844.89L68.6 848.71" stroke="#333" stroke-width="1.05" fill="none"/>
<rect x="61.1" y="858" width="17.5" height="10.7" fill="none" stroke="#cc2525" stroke-width="1.9"/>
<path d="M64.95 863.95L69.35 863.95M66.05 862.04L68.25 865.86M68.25 862.04L66.05 865.86" stroke="#333" stroke-width="1.05" fill="none"/>
<path d="M69.95 863.95L74.35 863.95M71.05 862.04L73.25 865.86M73.25 862.04L71.05 865.86" stroke="#333" stroke-width="1.05" fill="none"/>
<rect x="211.6" y="663.4" width="43.1" height="57.8" rx="4.3" ry="4.3" fill="#fff" stroke="#dcdcdc" stroke-width="0.7"/>
<text x="217.1" y="674.3" font-size="6.9" font-weight="bold" textLength="27.9" lengthAdjust="spacingAndGlyphs">Subtype</text>
<rect x="216.9" y="678.95" width="6.1" height="6.1" fill="#66c2a5" stroke="none" stroke-width="1"/>
<text x="228.4" y="684.6" font-size="7.6" stroke="#2a2a2a" stroke-width="0.1" fill="#2a2a2a" textLength="19.3" lengthAdjust="spacingAndGlyphs">Basal</text>
<rect x="216.9" y="689.25" width="6.1" height="6.1" fill="#fc8d62" stroke="none" stroke-width="1"/>
<text x="228.4" y="694.9" font-size="7.6" stroke="#2a2a2a" stroke-width="0.1" fill="#2a2a2a" textLength="20.4" lengthAdjust="spacingAndGlyphs">HER2</text>
<rect x="216.9" y="699.55" width="6.1" height="6.1" fill="#8da0cb" stroke="none" stroke-width="1"/>
<text x="228.4" y="705.2" font-size="7.6" stroke="#2a2a2a" stroke-width="0.1" fill="#2a2a2a" textLength="20.4" lengthAdjust="spacingAndGlyphs">LumA</text>
<rect x="216.9" y="709.85" width="6.1" height="6.1" fill="#e78ac3" stroke="none" stroke-width="1"/>
<text x="228.4" y="715.5" font-size="7.6" stroke="#2a2a2a" stroke-width="0.1" fill="#2a2a2a" textLength="20.4" lengthAdjust="spacingAndGlyphs">LumB</text>
</svg>
</body></html>
